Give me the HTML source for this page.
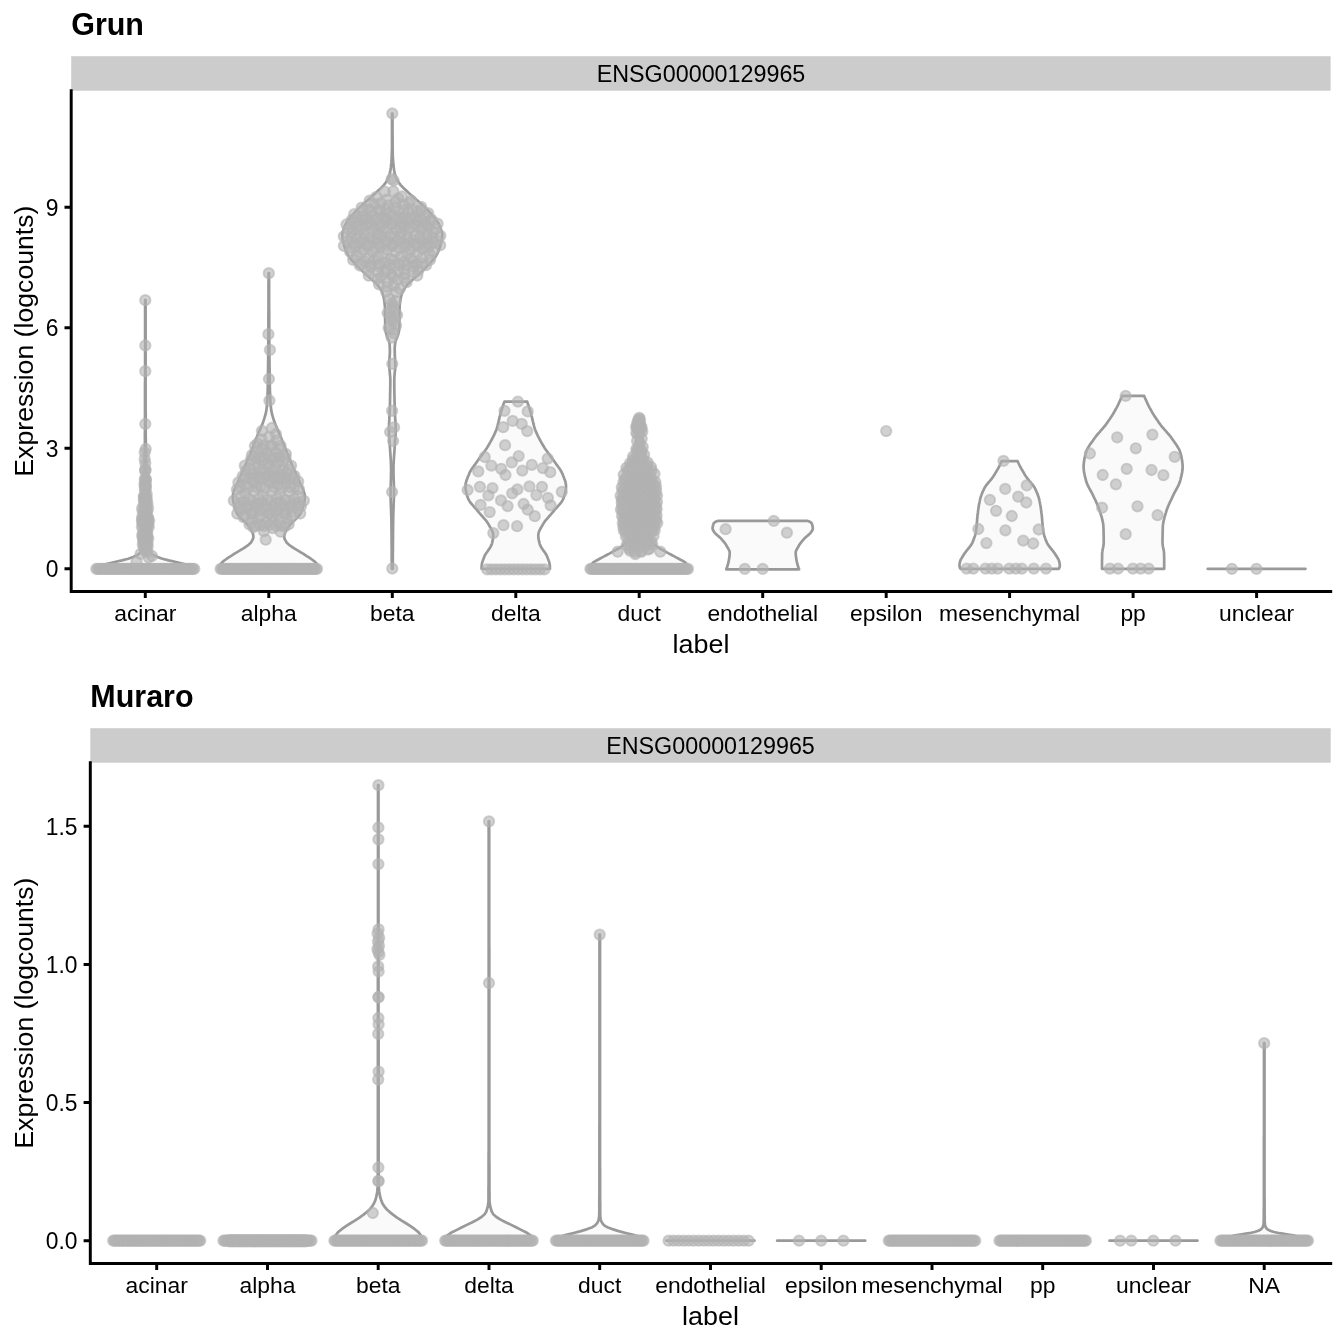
<!DOCTYPE html>
<html><head><meta charset="utf-8"><title>plot</title>
<style>html,body{margin:0;padding:0;background:#fff}svg{display:block;filter:grayscale(1)}text{font-family:"Liberation Sans",sans-serif;fill:#000}</style></head><body>
<svg width="1344" height="1344" viewBox="0 0 1344 1344">
<rect width="1344" height="1344" fill="#fff"/>
<rect x="71.2" y="56.2" width="1259.4" height="34.5" fill="#cccccc"/>
<text transform="translate(71.2,35.4) scale(1.0,1.0)" font-size="30.48" font-weight="bold">Grun</text>
<text transform="translate(701,81.7) scale(1.02,1.025)" font-size="22.86" text-anchor="middle">ENSG00000129965</text>
<g stroke="#000" stroke-width="2.95" stroke-linecap="square" fill="none">
<path d="M71.2,90.7 V591.4 H1330.7"/>
</g>
<g stroke="#000" stroke-width="2.95" stroke-linecap="butt" fill="none">
<path d="M71.2,568.8 h-6.7M71.2,448.3 h-6.7M71.2,327.7 h-6.7M71.2,207.2 h-6.7M145.3,591.4 v6.7M268.8,591.4 v6.7M392.3,591.4 v6.7M515.8,591.4 v6.7M639.2,591.4 v6.7M762.7,591.4 v6.7M886.2,591.4 v6.7M1009.6,591.4 v6.7M1133.1,591.4 v6.7M1256.6,591.4 v6.7"/>
</g>
<text transform="translate(58.5,577.1) scale(1.0,1.05)" font-size="22.86" text-anchor="end">0</text>
<text transform="translate(58.5,456.6) scale(1.0,1.05)" font-size="22.86" text-anchor="end">3</text>
<text transform="translate(58.5,336) scale(1.0,1.05)" font-size="22.86" text-anchor="end">6</text>
<text transform="translate(58.5,215.5) scale(1.0,1.05)" font-size="22.86" text-anchor="end">9</text>
<text transform="translate(145.3,620.8) scale(1.0,1.0)" font-size="22.86" text-anchor="middle">acinar</text>
<text transform="translate(268.8,620.8) scale(1.0,1.0)" font-size="22.86" text-anchor="middle">alpha</text>
<text transform="translate(392.3,620.8) scale(1.0,1.0)" font-size="22.86" text-anchor="middle">beta</text>
<text transform="translate(515.8,620.8) scale(1.0,1.0)" font-size="22.86" text-anchor="middle">delta</text>
<text transform="translate(639.2,620.8) scale(1.0,1.0)" font-size="22.86" text-anchor="middle">duct</text>
<text transform="translate(762.7,620.8) scale(1.0,1.0)" font-size="22.86" text-anchor="middle">endothelial</text>
<text transform="translate(886.2,620.8) scale(1.0,1.0)" font-size="22.86" text-anchor="middle">epsilon</text>
<text transform="translate(1009.6,620.8) scale(1.0,1.0)" font-size="22.86" text-anchor="middle">mesenchymal</text>
<text transform="translate(1133.1,620.8) scale(1.0,1.0)" font-size="22.86" text-anchor="middle">pp</text>
<text transform="translate(1256.6,620.8) scale(1.0,1.0)" font-size="22.86" text-anchor="middle">unclear</text>
<text transform="translate(701,652.8) scale(1.01,1.0)" font-size="26.67" text-anchor="middle">label</text>
<text transform="translate(32.5,341.1) rotate(-90) scale(1.0,1.0)" font-size="26.67" text-anchor="middle">Expression (logcounts)</text>
<g fill="#e5e5e5" fill-opacity="0.2" stroke="#999999" stroke-width="2.7" stroke-linejoin="round">
<path d="M145.1,300.2 145.1,301.9 145.1,303.6 145.1,305.3 145.1,307 145.1,308.6 145.1,310.3 145.1,312 145.1,313.7 145.1,315.4 145.1,317.1 145.1,318.8 145.1,320.5 145.1,322.2 145.1,323.9 145.1,325.5 145.1,327.2 145.1,328.9 145.1,330.6 145.1,332.3 145.1,334 145.1,335.7 145.1,337.4 145.1,339.1 145.1,340.7 145.1,342.4 145.1,344.1 145.1,345.8 145.1,347.5 145.1,349.2 145.1,350.9 145.1,352.6 145.1,354.3 145.1,355.9 145.1,357.6 145.1,359.3 145.1,361 145.1,362.7 145.1,364.4 145.1,366.1 145.1,367.8 145.1,369.5 145.1,371.2 145.1,372.8 145.1,374.5 145.1,376.2 145.1,377.9 145.1,379.6 145.1,381.3 145,383 145,384.7 145,386.4 145,388 145,389.7 145,391.4 145,393.1 145,394.8 145,396.5 145,398.2 145,399.9 145,401.6 145,403.2 145,404.9 145,406.6 145,408.3 145,410 145,411.7 145,413.4 145,415.1 145,416.8 145,418.5 145,420.1 145,421.8 145,423.5 145,425.2 145,426.9 145,428.6 145,430.3 144.9,432 144.9,433.7 144.9,435.3 144.9,437 144.9,438.7 144.9,440.4 144.9,442.1 144.9,443.8 144.9,445.5 144.9,447.2 144.8,448.9 144.8,450.5 144.8,452.2 144.8,453.9 144.7,455.6 144.7,457.3 144.6,459 144.5,460.7 144.4,462.4 144.4,464.1 144.3,465.8 144.2,467.4 144.2,469.1 144.1,470.8 144,472.5 144,474.2 143.9,475.9 143.8,477.6 143.8,479.3 143.7,481 143.6,482.6 143.6,484.3 143.5,486 143.4,487.7 143.4,489.4 143.3,491.1 143.3,492.8 143.2,494.5 143.2,496.2 143.2,497.8 143.1,499.5 143.1,501.2 143.1,502.9 143.1,504.6 143.1,506.3 143.1,508 143.1,509.7 143,511.4 143,513.1 143,514.7 143,516.4 143,518.1 143,519.8 143,521.5 143,523.2 143,524.9 143,526.6 142.9,528.3 142.9,529.9 142.9,531.6 142.9,533.3 142.9,535 142.9,536.7 142.9,538.4 142.8,540.1 142.8,541.8 142.8,543.5 142.8,545.1 142.7,546.8 142.3,548.5 141.7,550.2 140.8,551.9 139.2,553.6 136.9,555.3 133.2,557 128.3,558.7 121.9,560.4 114.7,562 107.5,563.7 101.8,565.4 98.1,567.1 95.9,568.8 194.7,568.8 192.5,567.1 188.9,565.4 183.2,563.7 176,562 168.7,560.4 162.4,558.7 157.5,557 153.8,555.3 151.5,553.6 149.9,551.9 149,550.2 148.4,548.5 148,546.8 147.9,545.1 147.9,543.5 147.8,541.8 147.8,540.1 147.8,538.4 147.8,536.7 147.8,535 147.8,533.3 147.7,531.6 147.7,529.9 147.7,528.3 147.7,526.6 147.7,524.9 147.7,523.2 147.7,521.5 147.7,519.8 147.7,518.1 147.6,516.4 147.6,514.7 147.6,513.1 147.6,511.4 147.6,509.7 147.6,508 147.6,506.3 147.6,504.6 147.6,502.9 147.5,501.2 147.5,499.5 147.5,497.8 147.5,496.2 147.4,494.5 147.4,492.8 147.3,491.1 147.3,489.4 147.2,487.7 147.2,486 147.1,484.3 147,482.6 147,481 146.9,479.3 146.8,477.6 146.8,475.9 146.7,474.2 146.6,472.5 146.6,470.8 146.5,469.1 146.4,467.4 146.4,465.8 146.3,464.1 146.2,462.4 146.1,460.7 146.1,459 146,457.3 146,455.6 145.9,453.9 145.9,452.2 145.8,450.5 145.8,448.9 145.8,447.2 145.8,445.5 145.8,443.8 145.8,442.1 145.8,440.4 145.8,438.7 145.7,437 145.7,435.3 145.7,433.7 145.7,432 145.7,430.3 145.7,428.6 145.7,426.9 145.7,425.2 145.7,423.5 145.7,421.8 145.7,420.1 145.7,418.5 145.7,416.8 145.7,415.1 145.7,413.4 145.7,411.7 145.6,410 145.6,408.3 145.6,406.6 145.6,404.9 145.6,403.2 145.6,401.6 145.6,399.9 145.6,398.2 145.6,396.5 145.6,394.8 145.6,393.1 145.6,391.4 145.6,389.7 145.6,388 145.6,386.4 145.6,384.7 145.6,383 145.6,381.3 145.6,379.6 145.6,377.9 145.6,376.2 145.6,374.5 145.6,372.8 145.6,371.2 145.6,369.5 145.6,367.8 145.6,366.1 145.6,364.4 145.6,362.7 145.6,361 145.6,359.3 145.6,357.6 145.6,355.9 145.6,354.3 145.6,352.6 145.6,350.9 145.6,349.2 145.6,347.5 145.6,345.8 145.6,344.1 145.6,342.4 145.6,340.7 145.6,339.1 145.6,337.4 145.6,335.7 145.6,334 145.6,332.3 145.6,330.6 145.6,328.9 145.6,327.2 145.6,325.5 145.6,323.9 145.6,322.2 145.6,320.5 145.6,318.8 145.6,317.1 145.6,315.4 145.6,313.7 145.6,312 145.6,310.3 145.6,308.6 145.6,307 145.6,305.3 145.6,303.6 145.6,301.9 145.6,300.2Z"/>
<path d="M268.6,273.2 268.6,275.1 268.6,276.9 268.6,278.8 268.6,280.6 268.5,282.5 268.5,284.4 268.5,286.2 268.5,288.1 268.5,289.9 268.5,291.8 268.5,293.7 268.5,295.5 268.5,297.4 268.5,299.2 268.5,301.1 268.5,302.9 268.5,304.8 268.5,306.7 268.5,308.5 268.5,310.4 268.5,312.2 268.4,314.1 268.4,316 268.4,317.8 268.4,319.7 268.4,321.5 268.4,323.4 268.4,325.3 268.4,327.1 268.4,329 268.4,330.8 268.3,332.7 268.3,334.6 268.3,336.4 268.3,338.3 268.3,340.1 268.3,342 268.3,343.8 268.3,345.7 268.3,347.6 268.2,349.4 268.2,351.3 268.2,353.1 268.2,355 268.2,356.9 268.2,358.7 268.2,360.6 268.1,362.4 268.1,364.3 268.1,366.2 268.1,368 268,369.9 268,371.7 268,373.6 268,375.5 267.9,377.3 267.9,379.2 267.9,381 267.9,382.9 267.8,384.7 267.8,386.6 267.7,388.5 267.7,390.3 267.6,392.2 267.6,394 267.5,395.9 267.4,397.8 267.3,399.6 267.2,401.5 267.1,403.3 266.9,405.2 266.8,407.1 266.5,408.9 266.3,410.8 265.9,412.6 265.5,414.5 264.9,416.4 264.4,418.2 263.8,420.1 263.2,421.9 262.5,423.8 261.7,425.6 260.9,427.5 260.1,429.4 259.3,431.2 258.5,433.1 257.7,434.9 256.9,436.8 256.1,438.7 255.4,440.5 254.7,442.4 253.9,444.2 253.2,446.1 252.5,448 251.7,449.8 251,451.7 250.3,453.5 249.5,455.4 248.8,457.3 248,459.1 247.2,461 246.5,462.8 245.6,464.7 244.8,466.5 243.9,468.4 243.1,470.3 242.2,472.1 241.4,474 240.5,475.8 239.7,477.7 239,479.6 238.2,481.4 237.4,483.3 236.5,485.1 235.6,487 234.8,488.9 234.1,490.7 233.5,492.6 233,494.4 232.8,496.3 232.8,498.2 233,500 233.3,501.9 233.7,503.7 234.2,505.6 234.7,507.4 235.4,509.3 236.1,511.2 236.8,513 237.9,514.9 239.5,516.7 241.3,518.6 243.3,520.5 245.3,522.3 247,524.2 248.6,526 250.1,527.9 251.1,529.8 252,531.6 252.8,533.5 253.3,535.3 253.4,537.2 252.9,539.1 251.9,540.9 250.8,542.8 248.8,544.6 246.2,546.5 243.4,548.3 240.4,550.2 237.2,552.1 234.1,553.9 231.2,555.8 228.3,557.6 225.7,559.5 223.1,561.4 221.2,563.2 220.1,565.1 219.6,566.9 219.4,568.8 318.2,568.8 318,566.9 317.5,565.1 316.4,563.2 314.5,561.4 311.9,559.5 309.3,557.6 306.4,555.8 303.5,553.9 300.4,552.1 297.2,550.2 294.2,548.3 291.4,546.5 288.8,544.6 286.8,542.8 285.7,540.9 284.7,539.1 284.2,537.2 284.3,535.3 284.8,533.5 285.6,531.6 286.5,529.8 287.6,527.9 289,526 290.7,524.2 292.3,522.3 294.3,520.5 296.3,518.6 298.2,516.7 299.7,514.9 300.8,513 301.5,511.2 302.2,509.3 302.9,507.4 303.5,505.6 303.9,503.7 304.3,501.9 304.6,500 304.8,498.2 304.8,496.3 304.6,494.4 304.1,492.6 303.5,490.7 302.8,488.9 302,487 301.1,485.1 300.2,483.3 299.4,481.4 298.6,479.6 297.9,477.7 297.1,475.8 296.2,474 295.4,472.1 294.5,470.3 293.7,468.4 292.8,466.5 292,464.7 291.2,462.8 290.4,461 289.6,459.1 288.8,457.3 288.1,455.4 287.3,453.5 286.6,451.7 285.9,449.8 285.2,448 284.4,446.1 283.7,444.2 283,442.4 282.2,440.5 281.5,438.7 280.7,436.8 279.9,434.9 279.1,433.1 278.3,431.2 277.5,429.4 276.7,427.5 275.9,425.6 275.1,423.8 274.5,421.9 273.8,420.1 273.2,418.2 272.7,416.4 272.1,414.5 271.7,412.6 271.3,410.8 271.1,408.9 270.9,407.1 270.7,405.2 270.5,403.3 270.4,401.5 270.3,399.6 270.2,397.8 270.1,395.9 270.1,394 270,392.2 269.9,390.3 269.9,388.5 269.8,386.6 269.8,384.7 269.8,382.9 269.7,381 269.7,379.2 269.7,377.3 269.6,375.5 269.6,373.6 269.6,371.7 269.6,369.9 269.5,368 269.5,366.2 269.5,364.3 269.5,362.4 269.5,360.6 269.4,358.7 269.4,356.9 269.4,355 269.4,353.1 269.4,351.3 269.4,349.4 269.4,347.6 269.3,345.7 269.3,343.8 269.3,342 269.3,340.1 269.3,338.3 269.3,336.4 269.3,334.6 269.3,332.7 269.3,330.8 269.2,329 269.2,327.1 269.2,325.3 269.2,323.4 269.2,321.5 269.2,319.7 269.2,317.8 269.2,316 269.2,314.1 269.2,312.2 269.2,310.4 269.1,308.5 269.1,306.7 269.1,304.8 269.1,302.9 269.1,301.1 269.1,299.2 269.1,297.4 269.1,295.5 269.1,293.7 269.1,291.8 269.1,289.9 269.1,288.1 269.1,286.2 269.1,284.4 269.1,282.5 269.1,280.6 269.1,278.8 269.1,276.9 269.1,275.1 269.1,273.2Z"/>
<path d="M392,113.5 392,116.4 392,119.2 392,122.1 392,125 392,127.8 392,130.7 392,133.5 392,136.4 392,139.3 392,142.1 392,145 392,147.9 391.9,150.7 391.8,153.6 391.7,156.5 391.6,159.3 391.4,162.2 391.1,165 390.8,167.9 390.3,170.8 389.7,173.6 388.9,176.5 387.7,179.4 386,182.2 383.8,185.1 381.1,188 378,190.8 374.9,193.7 371.8,196.5 368.5,199.4 365.2,202.3 362.1,205.1 359.1,208 356.2,210.9 353.5,213.7 351.1,216.6 348.8,219.5 346.7,222.3 345.2,225.2 344,228 343,230.9 342.4,233.8 342.3,236.6 342.7,239.5 343.3,242.4 344.1,245.2 344.9,248.1 346,250.9 347.4,253.8 349,256.7 351.1,259.5 353.8,262.4 356.6,265.3 359.4,268.1 362.4,271 365.5,273.9 368.6,276.7 371.8,279.6 375,282.4 377.7,285.3 379.9,288.2 381.7,291 382.9,293.9 383.5,296.8 384.1,299.6 384.5,302.5 384.8,305.4 385,308.2 385,311.1 385.1,313.9 385.1,316.8 385.1,319.7 385.2,322.5 385.2,325.4 385.3,328.3 385.5,331.1 386.3,334 387.2,336.9 388.5,339.7 389.4,342.6 389.7,345.4 389.8,348.3 389.9,351.2 389.8,354 389.6,356.9 389.4,359.8 389.3,362.6 389.3,365.5 389.4,368.4 389.7,371.2 389.9,374.1 390.2,376.9 390.3,379.8 390.3,382.7 390.3,385.5 390.2,388.4 390.2,391.3 390.1,394.1 390.1,397 390,399.9 390,402.7 389.9,405.6 389.8,408.4 389.7,411.3 389.6,414.2 389.4,417 389.3,419.9 389.1,422.8 389,425.6 388.9,428.5 388.9,431.4 389,434.2 389.2,437.1 389.4,439.9 389.6,442.8 389.8,445.7 390,448.5 390.2,451.4 390.4,454.3 390.6,457.1 390.8,460 390.9,462.8 391,465.7 391.1,468.6 391.1,471.4 391,474.3 391,477.2 390.9,480 390.8,482.9 390.7,485.8 390.6,488.6 390.6,491.5 390.6,494.3 390.6,497.2 390.7,500.1 390.8,502.9 390.9,505.8 391,508.7 391.1,511.5 391.2,514.4 391.3,517.3 391.4,520.1 391.4,523 391.5,525.8 391.5,528.7 391.5,531.6 391.6,534.4 391.6,537.3 391.6,540.2 391.6,543 391.6,545.9 391.7,548.8 391.7,551.6 391.7,554.5 391.7,557.3 391.7,560.2 391.8,563.1 391.8,565.9 391.8,568.8 392.8,568.8 392.8,565.9 392.8,563.1 392.8,560.2 392.8,557.3 392.8,554.5 392.9,551.6 392.9,548.8 392.9,545.9 392.9,543 393,540.2 393,537.3 393,534.4 393,531.6 393.1,528.7 393.1,525.8 393.1,523 393.2,520.1 393.2,517.3 393.3,514.4 393.4,511.5 393.5,508.7 393.6,505.8 393.7,502.9 393.8,500.1 393.9,497.2 394,494.3 394,491.5 393.9,488.6 393.9,485.8 393.8,482.9 393.7,480 393.6,477.2 393.5,474.3 393.5,471.4 393.5,468.6 393.5,465.7 393.7,462.8 393.8,460 394,457.1 394.2,454.3 394.4,451.4 394.6,448.5 394.7,445.7 394.9,442.8 395.1,439.9 395.4,437.1 395.6,434.2 395.7,431.4 395.7,428.5 395.6,425.6 395.5,422.8 395.3,419.9 395.1,417 394.9,414.2 394.8,411.3 394.7,408.4 394.7,405.6 394.6,402.7 394.5,399.9 394.5,397 394.4,394.1 394.4,391.3 394.3,388.4 394.3,385.5 394.3,382.7 394.3,379.8 394.4,376.9 394.6,374.1 394.9,371.2 395.2,368.4 395.3,365.5 395.2,362.6 395.1,359.8 394.9,356.9 394.8,354 394.7,351.2 394.7,348.3 394.9,345.4 395.2,342.6 396.1,339.7 397.3,336.9 398.3,334 399,331.1 399.3,328.3 399.4,325.4 399.4,322.5 399.4,319.7 399.4,316.8 399.5,313.9 399.5,311.1 399.6,308.2 399.7,305.4 400,302.5 400.5,299.6 401,296.8 401.7,293.9 402.9,291 404.7,288.2 406.8,285.3 409.6,282.4 412.8,279.6 416,276.7 419.1,273.9 422.2,271 425.2,268.1 428,265.3 430.8,262.4 433.4,259.5 435.6,256.7 437.2,253.8 438.5,250.9 439.6,248.1 440.5,245.2 441.2,242.4 441.9,239.5 442.2,236.6 442.2,233.8 441.5,230.9 440.5,228 439.4,225.2 437.9,222.3 435.8,219.5 433.5,216.6 431,213.7 428.4,210.9 425.5,208 422.5,205.1 419.4,202.3 416.1,199.4 412.8,196.5 409.6,193.7 406.5,190.8 403.5,188 400.7,185.1 398.6,182.2 396.9,179.4 395.7,176.5 394.8,173.6 394.2,170.8 393.8,167.9 393.4,165 393.2,162.2 393,159.3 392.8,156.5 392.7,153.6 392.7,150.7 392.6,147.9 392.6,145 392.6,142.1 392.6,139.3 392.6,136.4 392.5,133.5 392.5,130.7 392.5,127.8 392.5,125 392.5,122.1 392.5,119.2 392.5,116.4 392.5,113.5Z"/>
<path d="M504.4,401.6 504,402.7 503.6,403.7 503.3,404.8 502.9,405.8 502.6,406.9 502.2,407.9 501.9,409 501.6,410 501.2,411.1 500.9,412.1 500.6,413.2 500.3,414.2 500.1,415.3 499.8,416.3 499.5,417.4 499.3,418.4 499.1,419.5 498.8,420.5 498.6,421.6 498.3,422.6 498.1,423.7 497.8,424.7 497.5,425.8 497.2,426.8 496.9,427.9 496.6,428.9 496.2,430 495.8,431 495.4,432.1 494.9,433.1 494.4,434.2 494,435.3 493.4,436.3 492.9,437.4 492.3,438.4 491.8,439.5 491.2,440.5 490.6,441.6 490,442.6 489.4,443.7 488.8,444.7 488.2,445.8 487.6,446.8 486.9,447.9 486.2,448.9 485.5,450 484.7,451 484,452.1 483.2,453.1 482.4,454.2 481.7,455.2 480.9,456.3 480.1,457.3 479.3,458.4 478.6,459.4 477.8,460.5 477.1,461.5 476.4,462.6 475.6,463.6 474.9,464.7 474.1,465.7 473.3,466.8 472.5,467.8 471.8,468.9 471.1,470 470.5,471 469.9,472.1 469.4,473.1 469,474.2 468.6,475.2 468.1,476.3 467.7,477.3 467.3,478.4 466.9,479.4 466.5,480.5 466.2,481.5 465.9,482.6 465.7,483.6 465.6,484.7 465.5,485.7 465.5,486.8 465.5,487.8 465.6,488.9 465.7,489.9 465.9,491 466.2,492 466.4,493.1 466.7,494.1 467,495.2 467.3,496.2 467.7,497.3 468,498.3 468.5,499.4 469,500.4 469.7,501.5 470.5,502.6 471.3,503.6 472.2,504.7 473.1,505.7 474.1,506.8 475,507.8 476,508.9 476.9,509.9 477.7,511 478.6,512 479.5,513.1 480.4,514.1 481.3,515.2 482.3,516.2 483.2,517.3 484.1,518.3 485,519.4 485.9,520.4 486.7,521.5 487.4,522.5 488.1,523.6 488.7,524.6 489.3,525.7 489.9,526.7 490.5,527.8 491.1,528.8 491.7,529.9 492.2,530.9 492.6,532 492.9,533 493.1,534.1 493.2,535.1 493.2,536.2 493.2,537.3 493,538.3 492.9,539.4 492.6,540.4 492.4,541.5 492.2,542.5 491.9,543.6 491.6,544.6 491.1,545.7 490.6,546.7 490,547.8 489.3,548.8 488.5,549.9 487.8,550.9 487.1,552 486.3,553 485.7,554.1 485,555.1 484.5,556.2 484.1,557.2 483.7,558.3 483.3,559.3 482.9,560.4 482.5,561.4 482.2,562.5 482,563.5 481.8,564.6 481.7,565.6 481.6,566.7 481.6,567.7 481.6,568.8 550,568.8 549.9,567.7 549.9,566.7 549.8,565.6 549.7,564.6 549.5,563.5 549.3,562.5 549,561.4 548.6,560.4 548.2,559.3 547.8,558.3 547.4,557.2 547,556.2 546.5,555.1 545.8,554.1 545.2,553 544.5,552 543.7,550.9 543,549.9 542.2,548.8 541.5,547.8 540.9,546.7 540.4,545.7 539.9,544.6 539.6,543.6 539.4,542.5 539.1,541.5 538.9,540.4 538.6,539.4 538.5,538.3 538.3,537.3 538.3,536.2 538.3,535.1 538.4,534.1 538.6,533 538.9,532 539.3,530.9 539.8,529.9 540.4,528.8 541,527.8 541.6,526.7 542.2,525.7 542.8,524.6 543.4,523.6 544.1,522.5 544.8,521.5 545.6,520.4 546.5,519.4 547.4,518.3 548.3,517.3 549.2,516.2 550.2,515.2 551.1,514.1 552,513.1 552.9,512 553.8,511 554.6,509.9 555.5,508.9 556.5,507.8 557.4,506.8 558.4,505.7 559.3,504.7 560.2,503.6 561,502.6 561.8,501.5 562.5,500.4 563,499.4 563.5,498.3 563.8,497.3 564.2,496.2 564.5,495.2 564.8,494.1 565.1,493.1 565.3,492 565.6,491 565.8,489.9 565.9,488.9 566,487.8 566,486.8 566,485.7 565.9,484.7 565.8,483.6 565.6,482.6 565.3,481.5 565,480.5 564.6,479.4 564.2,478.4 563.8,477.3 563.4,476.3 563,475.2 562.5,474.2 562.1,473.1 561.6,472.1 561,471 560.4,470 559.7,468.9 559,467.8 558.2,466.8 557.4,465.7 556.6,464.7 555.9,463.6 555.1,462.6 554.4,461.5 553.7,460.5 552.9,459.4 552.2,458.4 551.4,457.3 550.6,456.3 549.8,455.2 549.1,454.2 548.3,453.1 547.5,452.1 546.8,451 546,450 545.3,448.9 544.6,447.9 543.9,446.8 543.3,445.8 542.7,444.7 542.1,443.7 541.5,442.6 540.9,441.6 540.3,440.5 539.7,439.5 539.2,438.4 538.6,437.4 538.1,436.3 537.6,435.3 537.1,434.2 536.6,433.1 536.1,432.1 535.7,431 535.3,430 534.9,428.9 534.6,427.9 534.3,426.8 534,425.8 533.7,424.7 533.4,423.7 533.2,422.6 532.9,421.6 532.7,420.5 532.4,419.5 532.2,418.4 532,417.4 531.7,416.3 531.4,415.3 531.2,414.2 530.9,413.2 530.6,412.1 530.3,411.1 529.9,410 529.6,409 529.3,407.9 528.9,406.9 528.6,405.8 528.2,404.8 527.9,403.7 527.5,402.7 527.2,401.6Z"/>
<path d="M638.4,417.5 638.3,418.5 638.3,419.4 638.2,420.4 638.1,421.3 638,422.3 637.9,423.2 637.8,424.2 637.7,425.1 637.6,426.1 637.5,427 637.4,428 637.3,428.9 637.2,429.9 637.1,430.8 637,431.8 636.9,432.7 636.8,433.7 636.8,434.6 636.7,435.6 636.6,436.5 636.5,437.5 636.4,438.4 636.3,439.4 636.2,440.3 636.1,441.3 636,442.2 635.9,443.2 635.8,444.1 635.6,445.1 635.5,446 635.4,447 635.3,448 635.2,448.9 635,449.9 634.9,450.8 634.8,451.8 634.6,452.7 634.5,453.7 634.3,454.6 634.1,455.6 633.9,456.5 633.7,457.5 633.5,458.4 633.2,459.4 632.9,460.3 632.6,461.3 632.3,462.2 632,463.2 631.6,464.1 631.3,465.1 631,466 630.6,467 630.3,467.9 630,468.9 629.7,469.8 629.4,470.8 629.1,471.7 628.8,472.7 628.5,473.6 628.3,474.6 628.1,475.5 627.9,476.5 627.7,477.4 627.5,478.4 627.2,479.4 627,480.3 626.8,481.3 626.6,482.2 626.4,483.2 626.2,484.1 626,485.1 625.8,486 625.6,487 625.4,487.9 625.2,488.9 625.1,489.8 624.9,490.8 624.8,491.7 624.6,492.7 624.5,493.6 624.4,494.6 624.4,495.5 624.3,496.5 624.3,497.4 624.2,498.4 624.2,499.3 624.2,500.3 624.3,501.2 624.3,502.2 624.3,503.1 624.4,504.1 624.4,505 624.5,506 624.6,506.9 624.6,507.9 624.7,508.9 624.8,509.8 624.9,510.8 625,511.7 625.1,512.7 625.2,513.6 625.2,514.6 625.3,515.5 625.4,516.5 625.5,517.4 625.6,518.4 625.7,519.3 625.8,520.3 625.9,521.2 626,522.2 626.1,523.1 626.2,524.1 626.2,525 626.3,526 626.4,526.9 626.5,527.9 626.5,528.8 626.6,529.8 626.7,530.7 626.8,531.7 626.9,532.6 626.9,533.6 627,534.5 627.1,535.5 627.1,536.4 627.2,537.4 627.2,538.3 627.2,539.3 627.2,540.3 626.9,541.2 626.3,542.2 625.5,543.1 624.4,544.1 623.4,545 622.3,546 621.1,546.9 619.6,547.9 618,548.8 616.3,549.8 614.5,550.7 612.8,551.7 611.1,552.6 609.4,553.6 607.6,554.5 605.8,555.5 604.1,556.4 602.3,557.4 600.6,558.3 598.8,559.3 597,560.2 595.2,561.2 593.7,562.1 592.6,563.1 591.9,564 591.2,565 590.7,565.9 590.4,566.9 590,567.8 589.8,568.8 688.6,568.8 688.4,567.8 688.1,566.9 687.7,565.9 687.2,565 686.6,564 685.8,563.1 684.7,562.1 683.2,561.2 681.5,560.2 679.6,559.3 677.8,558.3 676.1,557.4 674.4,556.4 672.6,555.5 670.8,554.5 669.1,553.6 667.3,552.6 665.6,551.7 663.9,550.7 662.1,549.8 660.4,548.8 658.8,547.9 657.4,546.9 656.2,546 655.1,545 654,544.1 653,543.1 652.1,542.2 651.5,541.2 651.2,540.3 651.2,539.3 651.2,538.3 651.3,537.4 651.3,536.4 651.4,535.5 651.4,534.5 651.5,533.6 651.6,532.6 651.7,531.7 651.7,530.7 651.8,529.8 651.9,528.8 652,527.9 652.1,526.9 652.2,526 652.2,525 652.3,524.1 652.4,523.1 652.4,522.2 652.5,521.2 652.6,520.3 652.7,519.3 652.8,518.4 652.9,517.4 653,516.5 653.1,515.5 653.2,514.6 653.3,513.6 653.4,512.7 653.5,511.7 653.6,510.8 653.7,509.8 653.7,508.9 653.8,507.9 653.9,506.9 654,506 654,505 654.1,504.1 654.1,503.1 654.2,502.2 654.2,501.2 654.2,500.3 654.2,499.3 654.2,498.4 654.2,497.4 654.2,496.5 654.1,495.5 654,494.6 653.9,493.6 653.8,492.7 653.7,491.7 653.5,490.8 653.4,489.8 653.2,488.9 653,487.9 652.9,487 652.7,486 652.5,485.1 652.3,484.1 652.1,483.2 651.9,482.2 651.6,481.3 651.4,480.3 651.2,479.4 651,478.4 650.8,477.4 650.6,476.5 650.3,475.5 650.1,474.6 649.9,473.6 649.7,472.7 649.4,471.7 649.1,470.8 648.8,469.8 648.5,468.9 648.1,467.9 647.8,467 647.5,466 647.1,465.1 646.8,464.1 646.5,463.2 646.2,462.2 645.8,461.3 645.5,460.3 645.3,459.4 645,458.4 644.7,457.5 644.5,456.5 644.3,455.6 644.2,454.6 644,453.7 643.8,452.7 643.7,451.8 643.6,450.8 643.4,449.9 643.3,448.9 643.2,448 643,447 642.9,446 642.8,445.1 642.7,444.1 642.6,443.2 642.5,442.2 642.4,441.3 642.3,440.3 642.2,439.4 642.1,438.4 642,437.5 641.9,436.5 641.8,435.6 641.7,434.6 641.6,433.7 641.5,432.7 641.4,431.8 641.3,430.8 641.2,429.9 641.1,428.9 641,428 640.9,427 640.8,426.1 640.7,425.1 640.6,424.2 640.5,423.2 640.5,422.3 640.4,421.3 640.3,420.4 640.2,419.4 640.1,418.5 640,417.5Z"/>
<path d="M717.7,520.9 716.9,521.2 716.2,521.5 715.5,521.8 715,522.1 714.6,522.4 714.3,522.7 714.1,523 713.8,523.3 713.6,523.6 713.5,523.9 713.3,524.2 713.2,524.6 713.1,524.9 713.1,525.2 713,525.5 712.9,525.8 712.9,526.1 712.8,526.4 712.8,526.7 712.7,527 712.7,527.3 712.6,527.6 712.6,527.9 712.6,528.2 712.6,528.5 712.6,528.8 712.7,529.1 712.7,529.4 712.9,529.7 713,530 713.2,530.3 713.3,530.6 713.5,530.9 713.7,531.2 713.9,531.6 714.1,531.9 714.3,532.2 714.5,532.5 714.7,532.8 715,533.1 715.3,533.4 715.6,533.7 715.9,534 716.2,534.3 716.5,534.6 716.9,534.9 717.2,535.2 717.6,535.5 717.9,535.8 718.3,536.1 718.6,536.4 719,536.7 719.3,537 719.7,537.3 720,537.6 720.4,537.9 720.7,538.3 721,538.6 721.3,538.9 721.6,539.2 721.8,539.5 722.1,539.8 722.4,540.1 722.6,540.4 722.9,540.7 723.1,541 723.4,541.3 723.6,541.6 723.9,541.9 724.1,542.2 724.3,542.5 724.6,542.8 724.8,543.1 725,543.4 725.3,543.7 725.5,544 725.7,544.3 725.9,544.6 726.1,544.9 726.3,545.3 726.4,545.6 726.6,545.9 726.8,546.2 727,546.5 727.1,546.8 727.3,547.1 727.5,547.4 727.7,547.7 727.9,548 728.1,548.3 728.2,548.6 728.4,548.9 728.6,549.2 728.7,549.5 728.9,549.8 729,550.1 729.2,550.4 729.3,550.7 729.4,551 729.5,551.3 729.6,551.6 729.6,551.9 729.7,552.3 729.7,552.6 729.7,552.9 729.7,553.2 729.7,553.5 729.7,553.8 729.7,554.1 729.6,554.4 729.6,554.7 729.6,555 729.6,555.3 729.5,555.6 729.5,555.9 729.5,556.2 729.4,556.5 729.4,556.8 729.3,557.1 729.3,557.4 729.3,557.7 729.2,558 729.2,558.3 729.1,558.6 729.1,559 729,559.3 729,559.6 728.9,559.9 728.9,560.2 728.8,560.5 728.8,560.8 728.7,561.1 728.6,561.4 728.6,561.7 728.5,562 728.5,562.3 728.4,562.6 728.3,562.9 728.2,563.2 728.2,563.5 728.1,563.8 728,564.1 727.9,564.4 727.8,564.7 727.7,565 727.6,565.3 727.6,565.6 727.5,566 727.4,566.3 727.3,566.6 727.2,566.9 727.1,567.2 727,567.5 726.8,567.8 726.7,568.1 726.6,568.4 726.5,568.7 726.4,569 726.3,569.3 799.1,569.3 799,569 798.9,568.7 798.8,568.4 798.7,568.1 798.5,567.8 798.4,567.5 798.3,567.2 798.2,566.9 798.1,566.6 798,566.3 797.9,566 797.8,565.6 797.7,565.3 797.7,565 797.6,564.7 797.5,564.4 797.4,564.1 797.3,563.8 797.2,563.5 797.2,563.2 797.1,562.9 797,562.6 796.9,562.3 796.9,562 796.8,561.7 796.7,561.4 796.7,561.1 796.6,560.8 796.6,560.5 796.5,560.2 796.5,559.9 796.4,559.6 796.4,559.3 796.3,559 796.3,558.6 796.2,558.3 796.2,558 796.1,557.7 796.1,557.4 796.1,557.1 796,556.8 796,556.5 795.9,556.2 795.9,555.9 795.9,555.6 795.8,555.3 795.8,555 795.8,554.7 795.8,554.4 795.7,554.1 795.7,553.8 795.7,553.5 795.7,553.2 795.7,552.9 795.7,552.6 795.7,552.3 795.8,551.9 795.8,551.6 795.9,551.3 796,551 796.1,550.7 796.2,550.4 796.4,550.1 796.5,549.8 796.7,549.5 796.8,549.2 797,548.9 797.2,548.6 797.3,548.3 797.5,548 797.7,547.7 797.9,547.4 798.1,547.1 798.3,546.8 798.4,546.5 798.6,546.2 798.8,545.9 798.9,545.6 799.1,545.3 799.3,544.9 799.5,544.6 799.7,544.3 799.9,544 800.1,543.7 800.4,543.4 800.6,543.1 800.8,542.8 801,542.5 801.3,542.2 801.5,541.9 801.8,541.6 802,541.3 802.3,541 802.5,540.7 802.8,540.4 803,540.1 803.3,539.8 803.6,539.5 803.8,539.2 804.1,538.9 804.4,538.6 804.7,538.3 805,537.9 805.4,537.6 805.7,537.3 806,537 806.4,536.7 806.8,536.4 807.1,536.1 807.5,535.8 807.8,535.5 808.2,535.2 808.5,534.9 808.9,534.6 809.2,534.3 809.5,534 809.8,533.7 810.1,533.4 810.4,533.1 810.6,532.8 810.9,532.5 811.1,532.2 811.3,531.9 811.5,531.6 811.7,531.2 811.9,530.9 812.1,530.6 812.2,530.3 812.4,530 812.5,529.7 812.7,529.4 812.7,529.1 812.8,528.8 812.8,528.5 812.8,528.2 812.8,527.9 812.7,527.6 812.7,527.3 812.7,527 812.6,526.7 812.6,526.4 812.5,526.1 812.5,525.8 812.4,525.5 812.3,525.2 812.3,524.9 812.2,524.6 812.1,524.2 811.9,523.9 811.7,523.6 811.6,523.3 811.3,523 811.1,522.7 810.8,522.4 810.4,522.1 809.9,521.8 809.2,521.5 808.5,521.2 807.7,520.9Z"/>
<path d="M1001.6,461.2 1001.3,461.9 1001,462.6 1000.7,463.3 1000.4,464 1000.1,464.6 999.7,465.3 999.4,466 999.1,466.7 998.7,467.3 998.3,468 998,468.7 997.6,469.4 997.2,470 996.8,470.7 996.4,471.4 996,472.1 995.6,472.7 995.2,473.4 994.8,474.1 994.4,474.8 993.9,475.5 993.5,476.1 993.1,476.8 992.6,477.5 992.1,478.2 991.6,478.8 991.1,479.5 990.5,480.2 989.9,480.9 989.4,481.5 988.8,482.2 988.2,482.9 987.6,483.6 987.1,484.2 986.5,484.9 986,485.6 985.6,486.3 985.1,487 984.7,487.6 984.3,488.3 984,489 983.7,489.7 983.4,490.3 983,491 982.7,491.7 982.5,492.4 982.2,493 981.9,493.7 981.6,494.4 981.4,495.1 981.2,495.7 980.9,496.4 980.7,497.1 980.5,497.8 980.3,498.5 980.1,499.1 980,499.8 979.8,500.5 979.7,501.2 979.6,501.8 979.4,502.5 979.3,503.2 979.2,503.9 979,504.5 978.9,505.2 978.8,505.9 978.7,506.6 978.6,507.2 978.5,507.9 978.4,508.6 978.3,509.3 978.2,510 978.1,510.6 978,511.3 978,512 977.9,512.7 977.8,513.3 977.7,514 977.6,514.7 977.5,515.4 977.5,516 977.4,516.7 977.3,517.4 977.3,518.1 977.2,518.7 977.1,519.4 977.1,520.1 977,520.8 977,521.5 976.9,522.1 976.9,522.8 976.8,523.5 976.8,524.2 976.7,524.8 976.7,525.5 976.6,526.2 976.5,526.9 976.5,527.5 976.4,528.2 976.3,528.9 976.2,529.6 976.1,530.2 976,530.9 975.9,531.6 975.8,532.3 975.7,532.9 975.5,533.6 975.3,534.3 975.2,535 975,535.7 974.8,536.3 974.5,537 974.3,537.7 974.1,538.4 973.8,539 973.6,539.7 973.3,540.4 973,541.1 972.8,541.7 972.5,542.4 972.2,543.1 971.8,543.8 971.4,544.4 971,545.1 970.5,545.8 970,546.5 969.5,547.2 968.9,547.8 968.4,548.5 967.8,549.2 967.3,549.9 966.7,550.5 966.2,551.2 965.7,551.9 965.2,552.6 964.7,553.2 964.3,553.9 963.8,554.6 963.4,555.3 963,555.9 962.5,556.6 962.1,557.3 961.7,558 961.3,558.7 960.9,559.3 960.6,560 960.3,560.7 960.1,561.4 959.9,562 959.8,562.7 959.7,563.4 959.5,564.1 959.5,564.7 959.4,565.4 959.5,566.1 959.6,566.8 959.8,567.4 960.1,568.1 960.4,568.8 1058.8,568.8 1059.2,568.1 1059.5,567.4 1059.7,566.8 1059.8,566.1 1059.8,565.4 1059.8,564.7 1059.7,564.1 1059.6,563.4 1059.5,562.7 1059.4,562 1059.2,561.4 1059,560.7 1058.7,560 1058.4,559.3 1058,558.7 1057.6,558 1057.2,557.3 1056.8,556.6 1056.3,555.9 1055.9,555.3 1055.4,554.6 1055,553.9 1054.6,553.2 1054.1,552.6 1053.6,551.9 1053.1,551.2 1052.6,550.5 1052,549.9 1051.5,549.2 1050.9,548.5 1050.4,547.8 1049.8,547.2 1049.3,546.5 1048.8,545.8 1048.3,545.1 1047.9,544.4 1047.5,543.8 1047.1,543.1 1046.8,542.4 1046.5,541.7 1046.2,541.1 1046,540.4 1045.7,539.7 1045.4,539 1045.2,538.4 1045,537.7 1044.7,537 1044.5,536.3 1044.3,535.7 1044.1,535 1043.9,534.3 1043.8,533.6 1043.6,532.9 1043.5,532.3 1043.4,531.6 1043.2,530.9 1043.1,530.2 1043.1,529.6 1043,528.9 1042.9,528.2 1042.8,527.5 1042.7,526.9 1042.7,526.2 1042.6,525.5 1042.6,524.8 1042.5,524.2 1042.5,523.5 1042.4,522.8 1042.4,522.1 1042.3,521.5 1042.2,520.8 1042.2,520.1 1042.1,519.4 1042.1,518.7 1042,518.1 1042,517.4 1041.9,516.7 1041.8,516 1041.7,515.4 1041.7,514.7 1041.6,514 1041.5,513.3 1041.4,512.7 1041.3,512 1041.2,511.3 1041.2,510.6 1041.1,510 1041,509.3 1040.9,508.6 1040.8,507.9 1040.7,507.2 1040.6,506.6 1040.5,505.9 1040.4,505.2 1040.2,504.5 1040.1,503.9 1040,503.2 1039.9,502.5 1039.7,501.8 1039.6,501.2 1039.4,500.5 1039.3,499.8 1039.1,499.1 1039,498.5 1038.8,497.8 1038.6,497.1 1038.4,496.4 1038.1,495.7 1037.9,495.1 1037.6,494.4 1037.4,493.7 1037.1,493 1036.8,492.4 1036.5,491.7 1036.2,491 1035.9,490.3 1035.6,489.7 1035.3,489 1034.9,488.3 1034.6,487.6 1034.2,487 1033.7,486.3 1033.2,485.6 1032.7,484.9 1032.2,484.2 1031.6,483.6 1031.1,482.9 1030.5,482.2 1029.9,481.5 1029.3,480.9 1028.8,480.2 1028.2,479.5 1027.7,478.8 1027.2,478.2 1026.7,477.5 1026.2,476.8 1025.8,476.1 1025.3,475.5 1024.9,474.8 1024.5,474.1 1024.1,473.4 1023.7,472.7 1023.3,472.1 1022.9,471.4 1022.5,470.7 1022.1,470 1021.7,469.4 1021.3,468.7 1021,468 1020.6,467.3 1020.2,466.7 1019.9,466 1019.5,465.3 1019.2,464.6 1018.9,464 1018.6,463.3 1018.2,462.6 1017.9,461.9 1017.6,461.2Z"/>
<path d="M1122,395.9 1121.6,397 1121.1,398.1 1120.7,399.2 1120.2,400.2 1119.7,401.3 1119.2,402.4 1118.7,403.5 1118.2,404.6 1117.6,405.7 1117.1,406.8 1116.5,407.9 1115.9,408.9 1115.3,410 1114.7,411.1 1114.1,412.2 1113.5,413.3 1112.8,414.4 1112.1,415.5 1111.4,416.6 1110.7,417.6 1110,418.7 1109.2,419.8 1108.5,420.9 1107.7,422 1106.9,423.1 1106.2,424.2 1105.3,425.3 1104.5,426.3 1103.6,427.4 1102.7,428.5 1101.7,429.6 1100.7,430.7 1099.8,431.8 1098.8,432.9 1097.9,434 1097,435 1096.1,436.1 1095.3,437.2 1094.5,438.3 1093.7,439.4 1093,440.5 1092.2,441.6 1091.4,442.7 1090.6,443.7 1089.9,444.8 1089.2,445.9 1088.5,447 1087.8,448.1 1087.3,449.2 1086.7,450.3 1086.3,451.4 1085.9,452.4 1085.6,453.5 1085.4,454.6 1085.1,455.7 1084.9,456.8 1084.7,457.9 1084.4,459 1084.3,460.1 1084.1,461.1 1083.9,462.2 1083.8,463.3 1083.7,464.4 1083.6,465.5 1083.6,466.6 1083.6,467.7 1083.7,468.8 1083.8,469.8 1083.9,470.9 1084.1,472 1084.2,473.1 1084.5,474.2 1084.7,475.3 1084.9,476.4 1085.2,477.5 1085.5,478.5 1085.8,479.6 1086,480.7 1086.4,481.8 1086.7,482.9 1087.2,484 1087.7,485.1 1088.2,486.2 1088.7,487.2 1089.3,488.3 1089.9,489.4 1090.5,490.5 1091.1,491.6 1091.7,492.7 1092.3,493.8 1092.8,494.9 1093.3,495.9 1093.8,497 1094.3,498.1 1094.9,499.2 1095.4,500.3 1095.9,501.4 1096.4,502.5 1096.9,503.6 1097.4,504.6 1097.9,505.7 1098.3,506.8 1098.7,507.9 1099.2,509 1099.5,510.1 1099.9,511.2 1100.2,512.3 1100.5,513.3 1100.8,514.4 1101.2,515.5 1101.5,516.6 1101.8,517.7 1102.1,518.8 1102.3,519.9 1102.6,521 1102.8,522 1103,523.1 1103.2,524.2 1103.3,525.3 1103.4,526.4 1103.4,527.5 1103.5,528.6 1103.5,529.7 1103.5,530.7 1103.6,531.8 1103.6,532.9 1103.6,534 1103.6,535.1 1103.7,536.2 1103.7,537.3 1103.7,538.4 1103.7,539.4 1103.7,540.5 1103.7,541.6 1103.7,542.7 1103.7,543.8 1103.5,544.9 1103.4,546 1103.2,547.1 1103,548.1 1102.7,549.2 1102.5,550.3 1102.4,551.4 1102.2,552.5 1102.1,553.6 1102.1,554.7 1102.1,555.8 1102.1,556.8 1102.1,557.9 1102.1,559 1102,560.1 1102,561.2 1102,562.3 1102,563.4 1102,564.5 1102,565.5 1102,566.6 1102,567.7 1102,568.8 1164.2,568.8 1164.2,567.7 1164.2,566.6 1164.2,565.5 1164.2,564.5 1164.2,563.4 1164.2,562.3 1164.2,561.2 1164.2,560.1 1164.2,559 1164.2,557.9 1164.1,556.8 1164.1,555.8 1164.1,554.7 1164.1,553.6 1164,552.5 1163.9,551.4 1163.7,550.3 1163.5,549.2 1163.3,548.1 1163,547.1 1162.8,546 1162.7,544.9 1162.6,543.8 1162.5,542.7 1162.5,541.6 1162.5,540.5 1162.5,539.4 1162.5,538.4 1162.6,537.3 1162.6,536.2 1162.6,535.1 1162.6,534 1162.6,532.9 1162.7,531.8 1162.7,530.7 1162.7,529.7 1162.8,528.6 1162.8,527.5 1162.8,526.4 1162.9,525.3 1163.1,524.2 1163.2,523.1 1163.4,522 1163.6,521 1163.9,519.9 1164.2,518.8 1164.4,517.7 1164.7,516.6 1165.1,515.5 1165.4,514.4 1165.7,513.3 1166,512.3 1166.3,511.2 1166.7,510.1 1167.1,509 1167.5,507.9 1167.9,506.8 1168.4,505.7 1168.8,504.6 1169.3,503.6 1169.8,502.5 1170.3,501.4 1170.9,500.3 1171.4,499.2 1171.9,498.1 1172.4,497 1172.9,495.9 1173.4,494.9 1173.9,493.8 1174.5,492.7 1175.1,491.6 1175.7,490.5 1176.3,489.4 1176.9,488.3 1177.5,487.2 1178,486.2 1178.6,485.1 1179,484 1179.5,482.9 1179.9,481.8 1180.2,480.7 1180.5,479.6 1180.7,478.5 1181,477.5 1181.3,476.4 1181.5,475.3 1181.8,474.2 1182,473.1 1182.2,472 1182.3,470.9 1182.5,469.8 1182.6,468.8 1182.6,467.7 1182.6,466.6 1182.6,465.5 1182.5,464.4 1182.4,463.3 1182.3,462.2 1182.1,461.1 1182,460.1 1181.8,459 1181.6,457.9 1181.4,456.8 1181.1,455.7 1180.9,454.6 1180.6,453.5 1180.3,452.4 1179.9,451.4 1179.5,450.3 1179,449.2 1178.4,448.1 1177.7,447 1177.1,445.9 1176.3,444.8 1175.6,443.7 1174.8,442.7 1174.1,441.6 1173.3,440.5 1172.5,439.4 1171.7,438.3 1171,437.2 1170.1,436.1 1169.3,435 1168.4,434 1167.4,432.9 1166.5,431.8 1165.5,430.7 1164.5,429.6 1163.6,428.5 1162.6,427.4 1161.7,426.3 1160.9,425.3 1160.1,424.2 1159.3,423.1 1158.5,422 1157.8,420.9 1157,419.8 1156.3,418.7 1155.5,417.6 1154.8,416.6 1154.1,415.5 1153.4,414.4 1152.8,413.3 1152.1,412.2 1151.5,411.1 1150.9,410 1150.3,408.9 1149.7,407.9 1149.1,406.8 1148.6,405.7 1148,404.6 1147.5,403.5 1147,402.4 1146.5,401.3 1146,400.2 1145.5,399.2 1145.1,398.1 1144.6,397 1144.2,395.9Z"/>
<path d="M1207.7,568.8 H1305.5" stroke-linecap="round"/>
</g>
<g fill="#b3b3b3" fill-opacity="0.6" stroke="#b3b3b3" stroke-opacity="0.6" stroke-width="1.89">
<circle cx="96.3" cy="568.9" r="5.21"/>
<circle cx="97.8" cy="568.9" r="5.21"/>
<circle cx="99.2" cy="568.9" r="5.21"/>
<circle cx="100.6" cy="568.9" r="5.21"/>
<circle cx="102" cy="568.9" r="5.21"/>
<circle cx="103.4" cy="568.9" r="5.21"/>
<circle cx="104.9" cy="568.9" r="5.21"/>
<circle cx="106.3" cy="568.9" r="5.21"/>
<circle cx="107.7" cy="568.9" r="5.21"/>
<circle cx="109.1" cy="568.9" r="5.21"/>
<circle cx="110.5" cy="568.9" r="5.21"/>
<circle cx="112" cy="568.9" r="5.21"/>
<circle cx="113.4" cy="568.9" r="5.21"/>
<circle cx="114.8" cy="568.9" r="5.21"/>
<circle cx="116.2" cy="568.9" r="5.21"/>
<circle cx="117.6" cy="568.9" r="5.21"/>
<circle cx="119.1" cy="568.9" r="5.21"/>
<circle cx="120.5" cy="568.9" r="5.21"/>
<circle cx="121.9" cy="568.9" r="5.21"/>
<circle cx="123.3" cy="568.9" r="5.21"/>
<circle cx="124.7" cy="568.9" r="5.21"/>
<circle cx="126.2" cy="568.9" r="5.21"/>
<circle cx="127.6" cy="568.9" r="5.21"/>
<circle cx="129" cy="568.9" r="5.21"/>
<circle cx="130.4" cy="568.9" r="5.21"/>
<circle cx="131.8" cy="568.9" r="5.21"/>
<circle cx="133.3" cy="568.9" r="5.21"/>
<circle cx="134.7" cy="568.9" r="5.21"/>
<circle cx="136.1" cy="568.9" r="5.21"/>
<circle cx="137.5" cy="568.9" r="5.21"/>
<circle cx="138.9" cy="568.9" r="5.21"/>
<circle cx="140.4" cy="568.9" r="5.21"/>
<circle cx="141.8" cy="568.9" r="5.21"/>
<circle cx="143.2" cy="568.9" r="5.21"/>
<circle cx="144.6" cy="568.9" r="5.21"/>
<circle cx="146" cy="568.9" r="5.21"/>
<circle cx="147.5" cy="568.9" r="5.21"/>
<circle cx="148.9" cy="568.9" r="5.21"/>
<circle cx="150.3" cy="568.9" r="5.21"/>
<circle cx="151.7" cy="568.9" r="5.21"/>
<circle cx="153.1" cy="568.9" r="5.21"/>
<circle cx="154.6" cy="568.9" r="5.21"/>
<circle cx="156" cy="568.9" r="5.21"/>
<circle cx="157.4" cy="568.9" r="5.21"/>
<circle cx="158.8" cy="568.9" r="5.21"/>
<circle cx="160.2" cy="568.9" r="5.21"/>
<circle cx="161.7" cy="568.9" r="5.21"/>
<circle cx="163.1" cy="568.9" r="5.21"/>
<circle cx="164.5" cy="568.9" r="5.21"/>
<circle cx="165.9" cy="568.9" r="5.21"/>
<circle cx="167.3" cy="568.9" r="5.21"/>
<circle cx="168.8" cy="568.9" r="5.21"/>
<circle cx="170.2" cy="568.9" r="5.21"/>
<circle cx="171.6" cy="568.9" r="5.21"/>
<circle cx="173" cy="568.9" r="5.21"/>
<circle cx="174.4" cy="568.9" r="5.21"/>
<circle cx="175.9" cy="568.9" r="5.21"/>
<circle cx="177.3" cy="568.9" r="5.21"/>
<circle cx="178.7" cy="568.9" r="5.21"/>
<circle cx="180.1" cy="568.9" r="5.21"/>
<circle cx="181.6" cy="568.9" r="5.21"/>
<circle cx="183" cy="568.9" r="5.21"/>
<circle cx="184.4" cy="568.9" r="5.21"/>
<circle cx="185.8" cy="568.9" r="5.21"/>
<circle cx="187.2" cy="568.9" r="5.21"/>
<circle cx="188.7" cy="568.9" r="5.21"/>
<circle cx="190.1" cy="568.9" r="5.21"/>
<circle cx="191.5" cy="568.9" r="5.21"/>
<circle cx="192.9" cy="568.9" r="5.21"/>
<circle cx="194.3" cy="568.9" r="5.21"/>
<circle cx="145.4" cy="469" r="5.21"/>
<circle cx="145.1" cy="470.6" r="5.21"/>
<circle cx="145.4" cy="470.6" r="5.21"/>
<circle cx="144.9" cy="478.9" r="5.21"/>
<circle cx="145.9" cy="479.4" r="5.21"/>
<circle cx="145.4" cy="479.4" r="5.21"/>
<circle cx="145.8" cy="482.1" r="5.21"/>
<circle cx="144.5" cy="483.6" r="5.21"/>
<circle cx="145.2" cy="485.3" r="5.21"/>
<circle cx="145.5" cy="485.7" r="5.21"/>
<circle cx="146" cy="486.7" r="5.21"/>
<circle cx="144.8" cy="486.7" r="5.21"/>
<circle cx="145.7" cy="490" r="5.21"/>
<circle cx="144.9" cy="490.2" r="5.21"/>
<circle cx="146.7" cy="494.4" r="5.21"/>
<circle cx="143.9" cy="496.1" r="5.21"/>
<circle cx="145.3" cy="496.7" r="5.21"/>
<circle cx="144.4" cy="496.9" r="5.21"/>
<circle cx="146.4" cy="497.5" r="5.21"/>
<circle cx="144" cy="497.6" r="5.21"/>
<circle cx="145.5" cy="498.9" r="5.21"/>
<circle cx="144.9" cy="499.4" r="5.21"/>
<circle cx="146.9" cy="500.1" r="5.21"/>
<circle cx="143.8" cy="500.3" r="5.21"/>
<circle cx="145.5" cy="501" r="5.21"/>
<circle cx="144.7" cy="503" r="5.21"/>
<circle cx="147.5" cy="503.8" r="5.21"/>
<circle cx="143.7" cy="505.3" r="5.21"/>
<circle cx="146.4" cy="506.3" r="5.21"/>
<circle cx="145.2" cy="507.7" r="5.21"/>
<circle cx="148.1" cy="508.5" r="5.21"/>
<circle cx="142.1" cy="508.7" r="5.21"/>
<circle cx="145.6" cy="511.2" r="5.21"/>
<circle cx="144.4" cy="511.9" r="5.21"/>
<circle cx="147" cy="512.2" r="5.21"/>
<circle cx="142.9" cy="512.4" r="5.21"/>
<circle cx="146" cy="513.3" r="5.21"/>
<circle cx="144.7" cy="516.1" r="5.21"/>
<circle cx="147.7" cy="517" r="5.21"/>
<circle cx="142" cy="517.6" r="5.21"/>
<circle cx="146.3" cy="517.6" r="5.21"/>
<circle cx="143.8" cy="517.9" r="5.21"/>
<circle cx="148" cy="518" r="5.21"/>
<circle cx="143.7" cy="518.4" r="5.21"/>
<circle cx="146.9" cy="519.4" r="5.21"/>
<circle cx="145.2" cy="519.7" r="5.21"/>
<circle cx="149.2" cy="520.5" r="5.21"/>
<circle cx="142" cy="520.6" r="5.21"/>
<circle cx="145.5" cy="521" r="5.21"/>
<circle cx="143.5" cy="521.1" r="5.21"/>
<circle cx="147.5" cy="521.3" r="5.21"/>
<circle cx="143.4" cy="521.9" r="5.21"/>
<circle cx="146.9" cy="522.1" r="5.21"/>
<circle cx="144.5" cy="522.4" r="5.21"/>
<circle cx="148.1" cy="522.7" r="5.21"/>
<circle cx="142.4" cy="522.8" r="5.21"/>
<circle cx="146.2" cy="523.3" r="5.21"/>
<circle cx="144.3" cy="523.7" r="5.21"/>
<circle cx="148" cy="524.6" r="5.21"/>
<circle cx="143.5" cy="525.5" r="5.21"/>
<circle cx="146.9" cy="526.4" r="5.21"/>
<circle cx="145.2" cy="526.7" r="5.21"/>
<circle cx="148.8" cy="526.9" r="5.21"/>
<circle cx="141.9" cy="526.9" r="5.21"/>
<circle cx="145.5" cy="528.2" r="5.21"/>
<circle cx="144.3" cy="531.1" r="5.21"/>
<circle cx="147.2" cy="531.5" r="5.21"/>
<circle cx="142.9" cy="532.6" r="5.21"/>
<circle cx="145.7" cy="533.1" r="5.21"/>
<circle cx="144.7" cy="533.9" r="5.21"/>
<circle cx="147.2" cy="534.5" r="5.21"/>
<circle cx="142.2" cy="535.5" r="5.21"/>
<circle cx="146" cy="535.6" r="5.21"/>
<circle cx="144.4" cy="535.6" r="5.21"/>
<circle cx="147.3" cy="537" r="5.21"/>
<circle cx="142.9" cy="537.3" r="5.21"/>
<circle cx="146.4" cy="537.4" r="5.21"/>
<circle cx="144.8" cy="537.6" r="5.21"/>
<circle cx="148.3" cy="538.5" r="5.21"/>
<circle cx="143.2" cy="538.6" r="5.21"/>
<circle cx="145.6" cy="539" r="5.21"/>
<circle cx="143.8" cy="540.2" r="5.21"/>
<circle cx="146.7" cy="540.3" r="5.21"/>
<circle cx="143.3" cy="541.1" r="5.21"/>
<circle cx="146.2" cy="542.3" r="5.21"/>
<circle cx="144.5" cy="543.9" r="5.21"/>
<circle cx="147.7" cy="544" r="5.21"/>
<circle cx="142.8" cy="544.4" r="5.21"/>
<circle cx="146.2" cy="544.8" r="5.21"/>
<circle cx="144.8" cy="544.9" r="5.21"/>
<circle cx="147.5" cy="546.9" r="5.21"/>
<circle cx="143.8" cy="547.7" r="5.21"/>
<circle cx="146.6" cy="549.6" r="5.21"/>
<circle cx="145.2" cy="550.8" r="5.21"/>
<circle cx="147.3" cy="552.2" r="5.21"/>
<circle cx="145.3" cy="300.2" r="5.21"/>
<circle cx="145.3" cy="345.5" r="5.21"/>
<circle cx="145.3" cy="371.2" r="5.21"/>
<circle cx="145.3" cy="424" r="5.21"/>
<circle cx="145.7" cy="449" r="5.21"/>
<circle cx="144.7" cy="452.5" r="5.21"/>
<circle cx="145.3" cy="463" r="5.21"/>
<circle cx="144.7" cy="459" r="5.21"/>
<circle cx="152" cy="556" r="5.21"/>
<circle cx="136.5" cy="562" r="5.21"/>
<circle cx="140.6" cy="553.8" r="5.21"/>
<circle cx="148.6" cy="557.5" r="5.21"/>
<circle cx="220.6" cy="568.9" r="5.21"/>
<circle cx="222" cy="568.9" r="5.21"/>
<circle cx="223.4" cy="568.9" r="5.21"/>
<circle cx="224.8" cy="568.9" r="5.21"/>
<circle cx="226.2" cy="568.9" r="5.21"/>
<circle cx="227.6" cy="568.9" r="5.21"/>
<circle cx="229" cy="568.9" r="5.21"/>
<circle cx="230.4" cy="568.9" r="5.21"/>
<circle cx="231.8" cy="568.9" r="5.21"/>
<circle cx="233.2" cy="568.9" r="5.21"/>
<circle cx="234.6" cy="568.9" r="5.21"/>
<circle cx="236" cy="568.9" r="5.21"/>
<circle cx="237.4" cy="568.9" r="5.21"/>
<circle cx="238.8" cy="568.9" r="5.21"/>
<circle cx="240.2" cy="568.9" r="5.21"/>
<circle cx="241.6" cy="568.9" r="5.21"/>
<circle cx="243" cy="568.9" r="5.21"/>
<circle cx="244.4" cy="568.9" r="5.21"/>
<circle cx="245.8" cy="568.9" r="5.21"/>
<circle cx="247.2" cy="568.9" r="5.21"/>
<circle cx="248.5" cy="568.9" r="5.21"/>
<circle cx="249.9" cy="568.9" r="5.21"/>
<circle cx="251.3" cy="568.9" r="5.21"/>
<circle cx="252.7" cy="568.9" r="5.21"/>
<circle cx="254.1" cy="568.9" r="5.21"/>
<circle cx="255.5" cy="568.9" r="5.21"/>
<circle cx="256.9" cy="568.9" r="5.21"/>
<circle cx="258.3" cy="568.9" r="5.21"/>
<circle cx="259.7" cy="568.9" r="5.21"/>
<circle cx="261.1" cy="568.9" r="5.21"/>
<circle cx="262.5" cy="568.9" r="5.21"/>
<circle cx="263.9" cy="568.9" r="5.21"/>
<circle cx="265.3" cy="568.9" r="5.21"/>
<circle cx="266.7" cy="568.9" r="5.21"/>
<circle cx="268.1" cy="568.9" r="5.21"/>
<circle cx="269.5" cy="568.9" r="5.21"/>
<circle cx="270.9" cy="568.9" r="5.21"/>
<circle cx="272.3" cy="568.9" r="5.21"/>
<circle cx="273.7" cy="568.9" r="5.21"/>
<circle cx="275.1" cy="568.9" r="5.21"/>
<circle cx="276.5" cy="568.9" r="5.21"/>
<circle cx="277.9" cy="568.9" r="5.21"/>
<circle cx="279.3" cy="568.9" r="5.21"/>
<circle cx="280.7" cy="568.9" r="5.21"/>
<circle cx="282.1" cy="568.9" r="5.21"/>
<circle cx="283.5" cy="568.9" r="5.21"/>
<circle cx="284.9" cy="568.9" r="5.21"/>
<circle cx="286.3" cy="568.9" r="5.21"/>
<circle cx="287.7" cy="568.9" r="5.21"/>
<circle cx="289.1" cy="568.9" r="5.21"/>
<circle cx="290.5" cy="568.9" r="5.21"/>
<circle cx="291.9" cy="568.9" r="5.21"/>
<circle cx="293.3" cy="568.9" r="5.21"/>
<circle cx="294.7" cy="568.9" r="5.21"/>
<circle cx="296" cy="568.9" r="5.21"/>
<circle cx="297.4" cy="568.9" r="5.21"/>
<circle cx="298.8" cy="568.9" r="5.21"/>
<circle cx="300.2" cy="568.9" r="5.21"/>
<circle cx="301.6" cy="568.9" r="5.21"/>
<circle cx="303" cy="568.9" r="5.21"/>
<circle cx="304.4" cy="568.9" r="5.21"/>
<circle cx="305.8" cy="568.9" r="5.21"/>
<circle cx="307.2" cy="568.9" r="5.21"/>
<circle cx="308.6" cy="568.9" r="5.21"/>
<circle cx="310" cy="568.9" r="5.21"/>
<circle cx="311.4" cy="568.9" r="5.21"/>
<circle cx="312.8" cy="568.9" r="5.21"/>
<circle cx="314.2" cy="568.9" r="5.21"/>
<circle cx="315.6" cy="568.9" r="5.21"/>
<circle cx="317" cy="568.9" r="5.21"/>
<circle cx="268.9" cy="437.2" r="5.21"/>
<circle cx="261.5" cy="439.3" r="5.21"/>
<circle cx="276.5" cy="440.4" r="5.21"/>
<circle cx="257.7" cy="443.4" r="5.21"/>
<circle cx="272.1" cy="445.2" r="5.21"/>
<circle cx="264" cy="445.6" r="5.21"/>
<circle cx="280.5" cy="445.7" r="5.21"/>
<circle cx="254.9" cy="445.9" r="5.21"/>
<circle cx="270.4" cy="446" r="5.21"/>
<circle cx="262.4" cy="449.3" r="5.21"/>
<circle cx="279.2" cy="449.4" r="5.21"/>
<circle cx="258.1" cy="450.4" r="5.21"/>
<circle cx="275.3" cy="452.1" r="5.21"/>
<circle cx="266.4" cy="453.2" r="5.21"/>
<circle cx="285.9" cy="454" r="5.21"/>
<circle cx="251.9" cy="455" r="5.21"/>
<circle cx="269.6" cy="456.5" r="5.21"/>
<circle cx="259.7" cy="457" r="5.21"/>
<circle cx="279.8" cy="457.3" r="5.21"/>
<circle cx="255.1" cy="457.6" r="5.21"/>
<circle cx="274.6" cy="457.6" r="5.21"/>
<circle cx="264.7" cy="457.7" r="5.21"/>
<circle cx="285.5" cy="457.8" r="5.21"/>
<circle cx="250.9" cy="459.8" r="5.21"/>
<circle cx="272.4" cy="460.1" r="5.21"/>
<circle cx="261.7" cy="460.9" r="5.21"/>
<circle cx="282.9" cy="461.3" r="5.21"/>
<circle cx="255.4" cy="462.4" r="5.21"/>
<circle cx="278.5" cy="462.5" r="5.21"/>
<circle cx="267.4" cy="464" r="5.21"/>
<circle cx="291.1" cy="465.6" r="5.21"/>
<circle cx="244.8" cy="465.7" r="5.21"/>
<circle cx="269.3" cy="467.3" r="5.21"/>
<circle cx="257.6" cy="467.7" r="5.21"/>
<circle cx="282.6" cy="469.2" r="5.21"/>
<circle cx="250.4" cy="469.2" r="5.21"/>
<circle cx="275.6" cy="469.3" r="5.21"/>
<circle cx="263.5" cy="469.7" r="5.21"/>
<circle cx="288.6" cy="469.7" r="5.21"/>
<circle cx="246.1" cy="470.6" r="5.21"/>
<circle cx="272.5" cy="471.2" r="5.21"/>
<circle cx="260.3" cy="472.3" r="5.21"/>
<circle cx="286.7" cy="472.6" r="5.21"/>
<circle cx="253" cy="473.5" r="5.21"/>
<circle cx="279.8" cy="474.1" r="5.21"/>
<circle cx="266.6" cy="475.8" r="5.21"/>
<circle cx="294.4" cy="475.8" r="5.21"/>
<circle cx="242.7" cy="476.1" r="5.21"/>
<circle cx="272.8" cy="476.7" r="5.21"/>
<circle cx="257.4" cy="476.8" r="5.21"/>
<circle cx="285.9" cy="477.3" r="5.21"/>
<circle cx="249.5" cy="477.6" r="5.21"/>
<circle cx="279.1" cy="477.8" r="5.21"/>
<circle cx="264.8" cy="477.9" r="5.21"/>
<circle cx="293.6" cy="478.6" r="5.21"/>
<circle cx="244.7" cy="478.6" r="5.21"/>
<circle cx="275.2" cy="478.7" r="5.21"/>
<circle cx="260.4" cy="478.9" r="5.21"/>
<circle cx="290.4" cy="479.1" r="5.21"/>
<circle cx="253.5" cy="479.4" r="5.21"/>
<circle cx="283.1" cy="479.4" r="5.21"/>
<circle cx="268.3" cy="480.9" r="5.21"/>
<circle cx="298.2" cy="481.5" r="5.21"/>
<circle cx="238.4" cy="482.4" r="5.21"/>
<circle cx="270.3" cy="482.7" r="5.21"/>
<circle cx="253.9" cy="482.8" r="5.21"/>
<circle cx="285.4" cy="483.6" r="5.21"/>
<circle cx="245.2" cy="484.4" r="5.21"/>
<circle cx="278.3" cy="484.5" r="5.21"/>
<circle cx="260.6" cy="486.5" r="5.21"/>
<circle cx="294.4" cy="487" r="5.21"/>
<circle cx="240.3" cy="487" r="5.21"/>
<circle cx="273.9" cy="487.1" r="5.21"/>
<circle cx="256.5" cy="487.2" r="5.21"/>
<circle cx="290.5" cy="487.3" r="5.21"/>
<circle cx="248.1" cy="487.8" r="5.21"/>
<circle cx="282.1" cy="487.8" r="5.21"/>
<circle cx="265" cy="488.3" r="5.21"/>
<circle cx="298.9" cy="489.1" r="5.21"/>
<circle cx="236.9" cy="489.5" r="5.21"/>
<circle cx="272" cy="490.3" r="5.21"/>
<circle cx="253.5" cy="490.9" r="5.21"/>
<circle cx="289.1" cy="491.3" r="5.21"/>
<circle cx="245.1" cy="493.2" r="5.21"/>
<circle cx="280.1" cy="494.1" r="5.21"/>
<circle cx="262.7" cy="495.6" r="5.21"/>
<circle cx="298.3" cy="496.2" r="5.21"/>
<circle cx="240.4" cy="496.7" r="5.21"/>
<circle cx="277.3" cy="498.3" r="5.21"/>
<circle cx="259.1" cy="498.8" r="5.21"/>
<circle cx="294.2" cy="499" r="5.21"/>
<circle cx="249.4" cy="499.2" r="5.21"/>
<circle cx="285.2" cy="499.8" r="5.21"/>
<circle cx="267.2" cy="499.8" r="5.21"/>
<circle cx="303.9" cy="500.6" r="5.21"/>
<circle cx="233.8" cy="500.7" r="5.21"/>
<circle cx="271" cy="501.4" r="5.21"/>
<circle cx="252.5" cy="501.6" r="5.21"/>
<circle cx="289.1" cy="501.8" r="5.21"/>
<circle cx="243.8" cy="502.2" r="5.21"/>
<circle cx="279.1" cy="502.3" r="5.21"/>
<circle cx="261.7" cy="502.7" r="5.21"/>
<circle cx="297.6" cy="503" r="5.21"/>
<circle cx="239.4" cy="503.2" r="5.21"/>
<circle cx="275.2" cy="503.4" r="5.21"/>
<circle cx="256.9" cy="504" r="5.21"/>
<circle cx="291.3" cy="505.1" r="5.21"/>
<circle cx="249" cy="505.1" r="5.21"/>
<circle cx="283.9" cy="505.7" r="5.21"/>
<circle cx="266.2" cy="505.9" r="5.21"/>
<circle cx="300.8" cy="506.4" r="5.21"/>
<circle cx="238.6" cy="507" r="5.21"/>
<circle cx="272.4" cy="507" r="5.21"/>
<circle cx="255" cy="507.1" r="5.21"/>
<circle cx="289.7" cy="507.4" r="5.21"/>
<circle cx="247.4" cy="507.5" r="5.21"/>
<circle cx="280.3" cy="508.5" r="5.21"/>
<circle cx="264.6" cy="508.8" r="5.21"/>
<circle cx="297.6" cy="508.8" r="5.21"/>
<circle cx="242.4" cy="509.2" r="5.21"/>
<circle cx="277.3" cy="510.1" r="5.21"/>
<circle cx="259.9" cy="510.3" r="5.21"/>
<circle cx="292.2" cy="511.9" r="5.21"/>
<circle cx="251.9" cy="512.8" r="5.21"/>
<circle cx="284.9" cy="513.3" r="5.21"/>
<circle cx="268.9" cy="513.3" r="5.21"/>
<circle cx="300.2" cy="513.5" r="5.21"/>
<circle cx="237.3" cy="513.7" r="5.21"/>
<circle cx="269.4" cy="513.7" r="5.21"/>
<circle cx="252.8" cy="513.7" r="5.21"/>
<circle cx="285.2" cy="513.9" r="5.21"/>
<circle cx="245.5" cy="514.7" r="5.21"/>
<circle cx="276.6" cy="514.8" r="5.21"/>
<circle cx="261.1" cy="515.5" r="5.21"/>
<circle cx="291.5" cy="516.5" r="5.21"/>
<circle cx="243.4" cy="517.1" r="5.21"/>
<circle cx="272.4" cy="517.3" r="5.21"/>
<circle cx="258.2" cy="518" r="5.21"/>
<circle cx="286.9" cy="518.7" r="5.21"/>
<circle cx="252.1" cy="519.1" r="5.21"/>
<circle cx="279.1" cy="520.4" r="5.21"/>
<circle cx="266.6" cy="522.6" r="5.21"/>
<circle cx="288.7" cy="524.2" r="5.21"/>
<circle cx="249.5" cy="524.4" r="5.21"/>
<circle cx="269.9" cy="524.8" r="5.21"/>
<circle cx="260.1" cy="525.2" r="5.21"/>
<circle cx="280.6" cy="525.6" r="5.21"/>
<circle cx="255.6" cy="525.8" r="5.21"/>
<circle cx="276.3" cy="525.9" r="5.21"/>
<circle cx="264.1" cy="526" r="5.21"/>
<circle cx="284.8" cy="526.6" r="5.21"/>
<circle cx="253.3" cy="527.1" r="5.21"/>
<circle cx="272.9" cy="528.2" r="5.21"/>
<circle cx="263.9" cy="531.2" r="5.21"/>
<circle cx="280.6" cy="531.7" r="5.21"/>
<circle cx="268.8" cy="273.2" r="5.21"/>
<circle cx="268.4" cy="334.2" r="5.21"/>
<circle cx="269.9" cy="349.9" r="5.21"/>
<circle cx="268.9" cy="379" r="5.21"/>
<circle cx="269.4" cy="400.5" r="5.21"/>
<circle cx="265.7" cy="539.7" r="5.21"/>
<circle cx="261.9" cy="431" r="5.21"/>
<circle cx="271.9" cy="428" r="5.21"/>
<circle cx="275.9" cy="434" r="5.21"/>
<circle cx="393.3" cy="191.3" r="5.21"/>
<circle cx="384.7" cy="191.6" r="5.21"/>
<circle cx="402" cy="196.5" r="5.21"/>
<circle cx="376" cy="197.2" r="5.21"/>
<circle cx="398.3" cy="198.3" r="5.21"/>
<circle cx="386.5" cy="199.7" r="5.21"/>
<circle cx="411.2" cy="200.5" r="5.21"/>
<circle cx="369.6" cy="200.7" r="5.21"/>
<circle cx="395.7" cy="202.1" r="5.21"/>
<circle cx="380.9" cy="202.9" r="5.21"/>
<circle cx="409.2" cy="203" r="5.21"/>
<circle cx="374.4" cy="204.1" r="5.21"/>
<circle cx="403.2" cy="204.6" r="5.21"/>
<circle cx="388.7" cy="205.3" r="5.21"/>
<circle cx="421.2" cy="206.9" r="5.21"/>
<circle cx="361.6" cy="207.7" r="5.21"/>
<circle cx="394.4" cy="208.1" r="5.21"/>
<circle cx="378.5" cy="208.6" r="5.21"/>
<circle cx="412.2" cy="209.4" r="5.21"/>
<circle cx="368.1" cy="209.4" r="5.21"/>
<circle cx="403.6" cy="209.6" r="5.21"/>
<circle cx="385.8" cy="210.1" r="5.21"/>
<circle cx="420.9" cy="210.3" r="5.21"/>
<circle cx="363.3" cy="210.3" r="5.21"/>
<circle cx="399" cy="210.6" r="5.21"/>
<circle cx="380" cy="210.7" r="5.21"/>
<circle cx="417.4" cy="211.2" r="5.21"/>
<circle cx="371.5" cy="211.3" r="5.21"/>
<circle cx="408.4" cy="212" r="5.21"/>
<circle cx="389.1" cy="212.8" r="5.21"/>
<circle cx="428.2" cy="213.2" r="5.21"/>
<circle cx="354.2" cy="214.1" r="5.21"/>
<circle cx="393.6" cy="215.4" r="5.21"/>
<circle cx="372.8" cy="215.4" r="5.21"/>
<circle cx="414.6" cy="216.6" r="5.21"/>
<circle cx="361.7" cy="216.9" r="5.21"/>
<circle cx="403.9" cy="217.2" r="5.21"/>
<circle cx="383.8" cy="217.2" r="5.21"/>
<circle cx="424.9" cy="217.5" r="5.21"/>
<circle cx="356.2" cy="217.9" r="5.21"/>
<circle cx="399.5" cy="218.4" r="5.21"/>
<circle cx="377.3" cy="218.4" r="5.21"/>
<circle cx="420.3" cy="218.5" r="5.21"/>
<circle cx="366.7" cy="219" r="5.21"/>
<circle cx="410.4" cy="219" r="5.21"/>
<circle cx="387.1" cy="219.1" r="5.21"/>
<circle cx="431.6" cy="219.7" r="5.21"/>
<circle cx="351.9" cy="219.8" r="5.21"/>
<circle cx="395.9" cy="219.9" r="5.21"/>
<circle cx="373.9" cy="220.1" r="5.21"/>
<circle cx="418.2" cy="220.2" r="5.21"/>
<circle cx="363.3" cy="220.2" r="5.21"/>
<circle cx="407.2" cy="220.7" r="5.21"/>
<circle cx="385.4" cy="220.8" r="5.21"/>
<circle cx="430.4" cy="221.1" r="5.21"/>
<circle cx="356.7" cy="221.2" r="5.21"/>
<circle cx="402.3" cy="221.9" r="5.21"/>
<circle cx="380.2" cy="222.5" r="5.21"/>
<circle cx="425.6" cy="222.8" r="5.21"/>
<circle cx="367.4" cy="223.1" r="5.21"/>
<circle cx="414" cy="223.5" r="5.21"/>
<circle cx="390.4" cy="223.7" r="5.21"/>
<circle cx="437.6" cy="223.7" r="5.21"/>
<circle cx="346.5" cy="224.5" r="5.21"/>
<circle cx="392.6" cy="224.5" r="5.21"/>
<circle cx="369.4" cy="224.8" r="5.21"/>
<circle cx="417.4" cy="225.8" r="5.21"/>
<circle cx="357" cy="226.1" r="5.21"/>
<circle cx="405.1" cy="226.4" r="5.21"/>
<circle cx="380.5" cy="226.5" r="5.21"/>
<circle cx="428.5" cy="226.6" r="5.21"/>
<circle cx="350.7" cy="227" r="5.21"/>
<circle cx="400.1" cy="227.3" r="5.21"/>
<circle cx="374.8" cy="227.3" r="5.21"/>
<circle cx="422.9" cy="227.5" r="5.21"/>
<circle cx="362.6" cy="227.7" r="5.21"/>
<circle cx="411.1" cy="227.9" r="5.21"/>
<circle cx="387.3" cy="228.3" r="5.21"/>
<circle cx="435.9" cy="229.1" r="5.21"/>
<circle cx="348.1" cy="229.7" r="5.21"/>
<circle cx="396.2" cy="230.2" r="5.21"/>
<circle cx="372.2" cy="230.3" r="5.21"/>
<circle cx="420.9" cy="230.4" r="5.21"/>
<circle cx="359.4" cy="230.5" r="5.21"/>
<circle cx="407.8" cy="230.6" r="5.21"/>
<circle cx="383.7" cy="231.1" r="5.21"/>
<circle cx="433.4" cy="231.9" r="5.21"/>
<circle cx="352.5" cy="232" r="5.21"/>
<circle cx="401.3" cy="232.7" r="5.21"/>
<circle cx="377.9" cy="233.4" r="5.21"/>
<circle cx="427.3" cy="233.5" r="5.21"/>
<circle cx="364.6" cy="234.1" r="5.21"/>
<circle cx="414.9" cy="235.3" r="5.21"/>
<circle cx="389.8" cy="235.7" r="5.21"/>
<circle cx="440.3" cy="235.7" r="5.21"/>
<circle cx="343.8" cy="236.3" r="5.21"/>
<circle cx="394.2" cy="236.5" r="5.21"/>
<circle cx="369.7" cy="237.4" r="5.21"/>
<circle cx="419.7" cy="237.5" r="5.21"/>
<circle cx="356.9" cy="237.6" r="5.21"/>
<circle cx="406.9" cy="237.7" r="5.21"/>
<circle cx="381.7" cy="237.7" r="5.21"/>
<circle cx="432.1" cy="237.8" r="5.21"/>
<circle cx="351.4" cy="237.9" r="5.21"/>
<circle cx="400.3" cy="238.1" r="5.21"/>
<circle cx="376.6" cy="238.5" r="5.21"/>
<circle cx="426.3" cy="238.6" r="5.21"/>
<circle cx="363.2" cy="239.2" r="5.21"/>
<circle cx="413.6" cy="240" r="5.21"/>
<circle cx="387.7" cy="240.3" r="5.21"/>
<circle cx="437.1" cy="240.6" r="5.21"/>
<circle cx="347.6" cy="241" r="5.21"/>
<circle cx="397.5" cy="241.2" r="5.21"/>
<circle cx="372.8" cy="241.4" r="5.21"/>
<circle cx="422" cy="242.3" r="5.21"/>
<circle cx="360.8" cy="242.4" r="5.21"/>
<circle cx="408.9" cy="242.4" r="5.21"/>
<circle cx="385.6" cy="242.6" r="5.21"/>
<circle cx="433.7" cy="242.8" r="5.21"/>
<circle cx="354.4" cy="242.9" r="5.21"/>
<circle cx="403.5" cy="243.3" r="5.21"/>
<circle cx="378.7" cy="243.5" r="5.21"/>
<circle cx="427.4" cy="243.7" r="5.21"/>
<circle cx="366.6" cy="243.7" r="5.21"/>
<circle cx="415.9" cy="243.8" r="5.21"/>
<circle cx="391.8" cy="245" r="5.21"/>
<circle cx="440.2" cy="245.2" r="5.21"/>
<circle cx="343.9" cy="245.8" r="5.21"/>
<circle cx="392.3" cy="245.9" r="5.21"/>
<circle cx="368.1" cy="246.3" r="5.21"/>
<circle cx="416.9" cy="246.5" r="5.21"/>
<circle cx="355.6" cy="246.6" r="5.21"/>
<circle cx="405.3" cy="246.6" r="5.21"/>
<circle cx="380.4" cy="247" r="5.21"/>
<circle cx="428.1" cy="247.3" r="5.21"/>
<circle cx="351" cy="247.6" r="5.21"/>
<circle cx="399.1" cy="247.9" r="5.21"/>
<circle cx="375" cy="248" r="5.21"/>
<circle cx="422.8" cy="248.7" r="5.21"/>
<circle cx="363.4" cy="249.7" r="5.21"/>
<circle cx="410.8" cy="250" r="5.21"/>
<circle cx="387.4" cy="250" r="5.21"/>
<circle cx="433.1" cy="251.3" r="5.21"/>
<circle cx="350.1" cy="251.6" r="5.21"/>
<circle cx="395.6" cy="251.6" r="5.21"/>
<circle cx="372.6" cy="252" r="5.21"/>
<circle cx="418" cy="252.3" r="5.21"/>
<circle cx="361.1" cy="252.6" r="5.21"/>
<circle cx="407.2" cy="253.5" r="5.21"/>
<circle cx="383.5" cy="253.6" r="5.21"/>
<circle cx="429.6" cy="253.9" r="5.21"/>
<circle cx="357" cy="255.7" r="5.21"/>
<circle cx="400.9" cy="256.6" r="5.21"/>
<circle cx="378" cy="257.2" r="5.21"/>
<circle cx="421.9" cy="257.8" r="5.21"/>
<circle cx="369.1" cy="258.2" r="5.21"/>
<circle cx="410.7" cy="258.6" r="5.21"/>
<circle cx="390.1" cy="259.3" r="5.21"/>
<circle cx="430.1" cy="259.7" r="5.21"/>
<circle cx="353.1" cy="259.8" r="5.21"/>
<circle cx="393.6" cy="259.9" r="5.21"/>
<circle cx="373.9" cy="260.2" r="5.21"/>
<circle cx="412.7" cy="261.5" r="5.21"/>
<circle cx="364.6" cy="261.6" r="5.21"/>
<circle cx="403.5" cy="262" r="5.21"/>
<circle cx="384.6" cy="262.9" r="5.21"/>
<circle cx="421.7" cy="263.3" r="5.21"/>
<circle cx="360.6" cy="263.7" r="5.21"/>
<circle cx="399.5" cy="263.9" r="5.21"/>
<circle cx="379.4" cy="264" r="5.21"/>
<circle cx="416.5" cy="264.2" r="5.21"/>
<circle cx="370.5" cy="264.3" r="5.21"/>
<circle cx="406.9" cy="264.6" r="5.21"/>
<circle cx="389.7" cy="264.7" r="5.21"/>
<circle cx="426" cy="265.2" r="5.21"/>
<circle cx="359.9" cy="265.5" r="5.21"/>
<circle cx="395" cy="265.8" r="5.21"/>
<circle cx="379" cy="266.3" r="5.21"/>
<circle cx="413.6" cy="266.7" r="5.21"/>
<circle cx="370.4" cy="266.9" r="5.21"/>
<circle cx="404" cy="269.4" r="5.21"/>
<circle cx="387.2" cy="270.2" r="5.21"/>
<circle cx="418.4" cy="270.4" r="5.21"/>
<circle cx="368.3" cy="271" r="5.21"/>
<circle cx="398.3" cy="271.4" r="5.21"/>
<circle cx="384.9" cy="272.2" r="5.21"/>
<circle cx="412.9" cy="272.2" r="5.21"/>
<circle cx="378.5" cy="272.5" r="5.21"/>
<circle cx="405" cy="274.1" r="5.21"/>
<circle cx="391.4" cy="274.9" r="5.21"/>
<circle cx="417.3" cy="275.5" r="5.21"/>
<circle cx="368.7" cy="275.7" r="5.21"/>
<circle cx="393.1" cy="276.7" r="5.21"/>
<circle cx="380.6" cy="277.3" r="5.21"/>
<circle cx="404.1" cy="278.3" r="5.21"/>
<circle cx="377.4" cy="279" r="5.21"/>
<circle cx="397.7" cy="279.6" r="5.21"/>
<circle cx="387.8" cy="281.8" r="5.21"/>
<circle cx="406.6" cy="282.2" r="5.21"/>
<circle cx="379" cy="284.3" r="5.21"/>
<circle cx="393.9" cy="285.5" r="5.21"/>
<circle cx="387.3" cy="286.8" r="5.21"/>
<circle cx="399.8" cy="288.9" r="5.21"/>
<circle cx="386.2" cy="291.9" r="5.21"/>
<circle cx="396.4" cy="292" r="5.21"/>
<circle cx="392.3" cy="113.5" r="5.21"/>
<circle cx="391.6" cy="179" r="5.21"/>
<circle cx="393.6" cy="180.5" r="5.21"/>
<circle cx="392.3" cy="363.8" r="5.21"/>
<circle cx="392.1" cy="410.8" r="5.21"/>
<circle cx="394.1" cy="427.3" r="5.21"/>
<circle cx="390.1" cy="432" r="5.21"/>
<circle cx="393.1" cy="441" r="5.21"/>
<circle cx="392.1" cy="492" r="5.21"/>
<circle cx="392.3" cy="568.5" r="5.21"/>
<circle cx="389.6" cy="299" r="5.21"/>
<circle cx="395.6" cy="301" r="5.21"/>
<circle cx="392.6" cy="306" r="5.21"/>
<circle cx="387.6" cy="313" r="5.21"/>
<circle cx="397.1" cy="315" r="5.21"/>
<circle cx="391.1" cy="320" r="5.21"/>
<circle cx="396.1" cy="325.5" r="5.21"/>
<circle cx="388.6" cy="328" r="5.21"/>
<circle cx="393.6" cy="333" r="5.21"/>
<circle cx="391.6" cy="337.5" r="5.21"/>
<circle cx="392.1" cy="303" r="5.21"/>
<circle cx="393.1" cy="310" r="5.21"/>
<circle cx="391.6" cy="317" r="5.21"/>
<circle cx="393.1" cy="322" r="5.21"/>
<circle cx="392.1" cy="329.5" r="5.21"/>
<circle cx="391.1" cy="309.5" r="5.21"/>
<circle cx="394.1" cy="318.5" r="5.21"/>
<circle cx="517.9" cy="401.6" r="5.21"/>
<circle cx="504.5" cy="410.8" r="5.21"/>
<circle cx="527.7" cy="411.4" r="5.21"/>
<circle cx="512.7" cy="420.9" r="5.21"/>
<circle cx="521.7" cy="423.9" r="5.21"/>
<circle cx="503.2" cy="427.2" r="5.21"/>
<circle cx="527.2" cy="431.1" r="5.21"/>
<circle cx="505.1" cy="445.2" r="5.21"/>
<circle cx="518.7" cy="456.1" r="5.21"/>
<circle cx="484.7" cy="457" r="5.21"/>
<circle cx="547.7" cy="458.6" r="5.21"/>
<circle cx="511.8" cy="462.4" r="5.21"/>
<circle cx="491.4" cy="465.6" r="5.21"/>
<circle cx="531.8" cy="464.8" r="5.21"/>
<circle cx="501.2" cy="468.8" r="5.21"/>
<circle cx="542.8" cy="468.1" r="5.21"/>
<circle cx="522.3" cy="470.6" r="5.21"/>
<circle cx="478.3" cy="471.4" r="5.21"/>
<circle cx="550.3" cy="472.2" r="5.21"/>
<circle cx="505.5" cy="475" r="5.21"/>
<circle cx="479.9" cy="486.8" r="5.21"/>
<circle cx="492.5" cy="488.1" r="5.21"/>
<circle cx="529.4" cy="486.4" r="5.21"/>
<circle cx="542" cy="486.8" r="5.21"/>
<circle cx="467.6" cy="490" r="5.21"/>
<circle cx="517.4" cy="489.4" r="5.21"/>
<circle cx="561.8" cy="491.8" r="5.21"/>
<circle cx="512.2" cy="493.3" r="5.21"/>
<circle cx="488.4" cy="495.4" r="5.21"/>
<circle cx="536.4" cy="495.1" r="5.21"/>
<circle cx="547.9" cy="497.9" r="5.21"/>
<circle cx="501" cy="500.4" r="5.21"/>
<circle cx="523.6" cy="504" r="5.21"/>
<circle cx="480.6" cy="504.9" r="5.21"/>
<circle cx="550.6" cy="505.3" r="5.21"/>
<circle cx="507.6" cy="506.1" r="5.21"/>
<circle cx="527.7" cy="509.7" r="5.21"/>
<circle cx="489.7" cy="512.1" r="5.21"/>
<circle cx="534.8" cy="516.2" r="5.21"/>
<circle cx="503.5" cy="525.2" r="5.21"/>
<circle cx="517.1" cy="526.2" r="5.21"/>
<circle cx="493.3" cy="533.1" r="5.21"/>
<circle cx="487.2" cy="569.3" r="5.21"/>
<circle cx="491.6" cy="569.3" r="5.21"/>
<circle cx="496" cy="569.3" r="5.21"/>
<circle cx="500.4" cy="569.3" r="5.21"/>
<circle cx="504.8" cy="569.3" r="5.21"/>
<circle cx="509.2" cy="569.3" r="5.21"/>
<circle cx="513.6" cy="569.3" r="5.21"/>
<circle cx="518" cy="569.3" r="5.21"/>
<circle cx="522.4" cy="569.3" r="5.21"/>
<circle cx="526.8" cy="569.3" r="5.21"/>
<circle cx="531.2" cy="569.3" r="5.21"/>
<circle cx="535.6" cy="569.3" r="5.21"/>
<circle cx="540" cy="569.3" r="5.21"/>
<circle cx="544.4" cy="569.3" r="5.21"/>
<circle cx="590.4" cy="568.9" r="5.21"/>
<circle cx="591.7" cy="568.9" r="5.21"/>
<circle cx="593.1" cy="568.9" r="5.21"/>
<circle cx="594.4" cy="568.9" r="5.21"/>
<circle cx="595.7" cy="568.9" r="5.21"/>
<circle cx="597" cy="568.9" r="5.21"/>
<circle cx="598.3" cy="568.9" r="5.21"/>
<circle cx="599.7" cy="568.9" r="5.21"/>
<circle cx="601" cy="568.9" r="5.21"/>
<circle cx="602.3" cy="568.9" r="5.21"/>
<circle cx="603.6" cy="568.9" r="5.21"/>
<circle cx="604.9" cy="568.9" r="5.21"/>
<circle cx="606.3" cy="568.9" r="5.21"/>
<circle cx="607.6" cy="568.9" r="5.21"/>
<circle cx="608.9" cy="568.9" r="5.21"/>
<circle cx="610.2" cy="568.9" r="5.21"/>
<circle cx="611.5" cy="568.9" r="5.21"/>
<circle cx="612.8" cy="568.9" r="5.21"/>
<circle cx="614.2" cy="568.9" r="5.21"/>
<circle cx="615.5" cy="568.9" r="5.21"/>
<circle cx="616.8" cy="568.9" r="5.21"/>
<circle cx="618.1" cy="568.9" r="5.21"/>
<circle cx="619.4" cy="568.9" r="5.21"/>
<circle cx="620.8" cy="568.9" r="5.21"/>
<circle cx="622.1" cy="568.9" r="5.21"/>
<circle cx="623.4" cy="568.9" r="5.21"/>
<circle cx="624.7" cy="568.9" r="5.21"/>
<circle cx="626" cy="568.9" r="5.21"/>
<circle cx="627.4" cy="568.9" r="5.21"/>
<circle cx="628.7" cy="568.9" r="5.21"/>
<circle cx="630" cy="568.9" r="5.21"/>
<circle cx="631.3" cy="568.9" r="5.21"/>
<circle cx="632.6" cy="568.9" r="5.21"/>
<circle cx="633.9" cy="568.9" r="5.21"/>
<circle cx="635.3" cy="568.9" r="5.21"/>
<circle cx="636.6" cy="568.9" r="5.21"/>
<circle cx="637.9" cy="568.9" r="5.21"/>
<circle cx="639.2" cy="568.9" r="5.21"/>
<circle cx="640.5" cy="568.9" r="5.21"/>
<circle cx="641.9" cy="568.9" r="5.21"/>
<circle cx="643.2" cy="568.9" r="5.21"/>
<circle cx="644.5" cy="568.9" r="5.21"/>
<circle cx="645.8" cy="568.9" r="5.21"/>
<circle cx="647.1" cy="568.9" r="5.21"/>
<circle cx="648.5" cy="568.9" r="5.21"/>
<circle cx="649.8" cy="568.9" r="5.21"/>
<circle cx="651.1" cy="568.9" r="5.21"/>
<circle cx="652.4" cy="568.9" r="5.21"/>
<circle cx="653.7" cy="568.9" r="5.21"/>
<circle cx="655.1" cy="568.9" r="5.21"/>
<circle cx="656.4" cy="568.9" r="5.21"/>
<circle cx="657.7" cy="568.9" r="5.21"/>
<circle cx="659" cy="568.9" r="5.21"/>
<circle cx="660.3" cy="568.9" r="5.21"/>
<circle cx="661.6" cy="568.9" r="5.21"/>
<circle cx="663" cy="568.9" r="5.21"/>
<circle cx="664.3" cy="568.9" r="5.21"/>
<circle cx="665.6" cy="568.9" r="5.21"/>
<circle cx="666.9" cy="568.9" r="5.21"/>
<circle cx="668.2" cy="568.9" r="5.21"/>
<circle cx="669.6" cy="568.9" r="5.21"/>
<circle cx="670.9" cy="568.9" r="5.21"/>
<circle cx="672.2" cy="568.9" r="5.21"/>
<circle cx="673.5" cy="568.9" r="5.21"/>
<circle cx="674.8" cy="568.9" r="5.21"/>
<circle cx="676.2" cy="568.9" r="5.21"/>
<circle cx="677.5" cy="568.9" r="5.21"/>
<circle cx="678.8" cy="568.9" r="5.21"/>
<circle cx="680.1" cy="568.9" r="5.21"/>
<circle cx="681.4" cy="568.9" r="5.21"/>
<circle cx="682.7" cy="568.9" r="5.21"/>
<circle cx="684.1" cy="568.9" r="5.21"/>
<circle cx="685.4" cy="568.9" r="5.21"/>
<circle cx="686.7" cy="568.9" r="5.21"/>
<circle cx="688" cy="568.9" r="5.21"/>
<circle cx="639.6" cy="418.9" r="5.21"/>
<circle cx="637.9" cy="420.6" r="5.21"/>
<circle cx="639.9" cy="421.4" r="5.21"/>
<circle cx="637.1" cy="423.9" r="5.21"/>
<circle cx="640.2" cy="424.9" r="5.21"/>
<circle cx="638.5" cy="425.4" r="5.21"/>
<circle cx="641.4" cy="426.9" r="5.21"/>
<circle cx="636.1" cy="426.9" r="5.21"/>
<circle cx="639.6" cy="427.6" r="5.21"/>
<circle cx="637.5" cy="427.7" r="5.21"/>
<circle cx="641.2" cy="428.2" r="5.21"/>
<circle cx="637.5" cy="428.3" r="5.21"/>
<circle cx="640.4" cy="429.7" r="5.21"/>
<circle cx="639.6" cy="430.6" r="5.21"/>
<circle cx="642.3" cy="431.4" r="5.21"/>
<circle cx="636.3" cy="432.9" r="5.21"/>
<circle cx="639.5" cy="433.4" r="5.21"/>
<circle cx="637.6" cy="434.5" r="5.21"/>
<circle cx="641.7" cy="438.7" r="5.21"/>
<circle cx="637" cy="441" r="5.21"/>
<circle cx="639.9" cy="442.8" r="5.21"/>
<circle cx="638.9" cy="446.4" r="5.21"/>
<circle cx="642.7" cy="446.9" r="5.21"/>
<circle cx="636.3" cy="449.2" r="5.21"/>
<circle cx="640.2" cy="449.8" r="5.21"/>
<circle cx="637.4" cy="450.2" r="5.21"/>
<circle cx="641.6" cy="450.7" r="5.21"/>
<circle cx="637.6" cy="451.4" r="5.21"/>
<circle cx="641.3" cy="453.5" r="5.21"/>
<circle cx="638.3" cy="454.3" r="5.21"/>
<circle cx="644.1" cy="454.6" r="5.21"/>
<circle cx="633" cy="456.6" r="5.21"/>
<circle cx="638.7" cy="457.9" r="5.21"/>
<circle cx="634.9" cy="458.1" r="5.21"/>
<circle cx="643" cy="459.4" r="5.21"/>
<circle cx="632.8" cy="460.4" r="5.21"/>
<circle cx="641.9" cy="460.9" r="5.21"/>
<circle cx="636.8" cy="462.3" r="5.21"/>
<circle cx="647.6" cy="462.3" r="5.21"/>
<circle cx="630.1" cy="463.1" r="5.21"/>
<circle cx="640.1" cy="463.4" r="5.21"/>
<circle cx="635.2" cy="463.6" r="5.21"/>
<circle cx="646.7" cy="464.7" r="5.21"/>
<circle cx="631.4" cy="465.6" r="5.21"/>
<circle cx="644.2" cy="466.6" r="5.21"/>
<circle cx="638" cy="466.7" r="5.21"/>
<circle cx="651" cy="467" r="5.21"/>
<circle cx="626.4" cy="467.8" r="5.21"/>
<circle cx="640.3" cy="468" r="5.21"/>
<circle cx="634.4" cy="468.5" r="5.21"/>
<circle cx="647.1" cy="469.2" r="5.21"/>
<circle cx="629.3" cy="469.4" r="5.21"/>
<circle cx="644.2" cy="469.5" r="5.21"/>
<circle cx="637.2" cy="469.7" r="5.21"/>
<circle cx="651.7" cy="470.5" r="5.21"/>
<circle cx="627.4" cy="470.6" r="5.21"/>
<circle cx="642.8" cy="471.1" r="5.21"/>
<circle cx="634.7" cy="472.3" r="5.21"/>
<circle cx="649.7" cy="472.8" r="5.21"/>
<circle cx="630.9" cy="472.9" r="5.21"/>
<circle cx="646.4" cy="473.4" r="5.21"/>
<circle cx="639" cy="473.5" r="5.21"/>
<circle cx="654.5" cy="473.9" r="5.21"/>
<circle cx="623.7" cy="474.8" r="5.21"/>
<circle cx="639.8" cy="475.6" r="5.21"/>
<circle cx="631.3" cy="477.6" r="5.21"/>
<circle cx="648" cy="478" r="5.21"/>
<circle cx="626.6" cy="478.1" r="5.21"/>
<circle cx="643" cy="478.2" r="5.21"/>
<circle cx="635.7" cy="478.4" r="5.21"/>
<circle cx="651.4" cy="478.8" r="5.21"/>
<circle cx="624.9" cy="478.9" r="5.21"/>
<circle cx="641.5" cy="480" r="5.21"/>
<circle cx="633" cy="480" r="5.21"/>
<circle cx="649.8" cy="480.4" r="5.21"/>
<circle cx="629.4" cy="481.5" r="5.21"/>
<circle cx="644.9" cy="481.7" r="5.21"/>
<circle cx="637.7" cy="481.7" r="5.21"/>
<circle cx="655.4" cy="482" r="5.21"/>
<circle cx="623.5" cy="482" r="5.21"/>
<circle cx="640.6" cy="482.3" r="5.21"/>
<circle cx="632.2" cy="482.8" r="5.21"/>
<circle cx="649.9" cy="482.8" r="5.21"/>
<circle cx="627.1" cy="483.2" r="5.21"/>
<circle cx="645" cy="484.1" r="5.21"/>
<circle cx="636.2" cy="484.2" r="5.21"/>
<circle cx="653.9" cy="484.4" r="5.21"/>
<circle cx="625.4" cy="484.4" r="5.21"/>
<circle cx="643" cy="484.5" r="5.21"/>
<circle cx="633.9" cy="484.7" r="5.21"/>
<circle cx="651.5" cy="484.8" r="5.21"/>
<circle cx="629.4" cy="485.1" r="5.21"/>
<circle cx="646.9" cy="485.1" r="5.21"/>
<circle cx="638.3" cy="486.5" r="5.21"/>
<circle cx="656" cy="486.7" r="5.21"/>
<circle cx="621.8" cy="487.3" r="5.21"/>
<circle cx="640.7" cy="487.5" r="5.21"/>
<circle cx="631.1" cy="488" r="5.21"/>
<circle cx="648.4" cy="488.1" r="5.21"/>
<circle cx="627.1" cy="488.2" r="5.21"/>
<circle cx="644.2" cy="488.8" r="5.21"/>
<circle cx="635.8" cy="489.2" r="5.21"/>
<circle cx="653.5" cy="489.3" r="5.21"/>
<circle cx="624.4" cy="489.8" r="5.21"/>
<circle cx="642.4" cy="489.8" r="5.21"/>
<circle cx="633.1" cy="489.9" r="5.21"/>
<circle cx="651.4" cy="490" r="5.21"/>
<circle cx="629.6" cy="490.4" r="5.21"/>
<circle cx="646" cy="490.5" r="5.21"/>
<circle cx="637.8" cy="490.6" r="5.21"/>
<circle cx="656.1" cy="490.7" r="5.21"/>
<circle cx="622.6" cy="490.9" r="5.21"/>
<circle cx="640.7" cy="492.3" r="5.21"/>
<circle cx="632.9" cy="492.3" r="5.21"/>
<circle cx="650.2" cy="492.4" r="5.21"/>
<circle cx="628.3" cy="493.2" r="5.21"/>
<circle cx="646" cy="493.5" r="5.21"/>
<circle cx="636.7" cy="493.8" r="5.21"/>
<circle cx="655.2" cy="494.1" r="5.21"/>
<circle cx="625.4" cy="494.5" r="5.21"/>
<circle cx="644" cy="494.7" r="5.21"/>
<circle cx="634.5" cy="495" r="5.21"/>
<circle cx="652.9" cy="495.2" r="5.21"/>
<circle cx="629.8" cy="495.3" r="5.21"/>
<circle cx="648.7" cy="495.4" r="5.21"/>
<circle cx="639.3" cy="495.5" r="5.21"/>
<circle cx="657" cy="495.6" r="5.21"/>
<circle cx="620.6" cy="495.8" r="5.21"/>
<circle cx="639.5" cy="495.8" r="5.21"/>
<circle cx="629.9" cy="496.1" r="5.21"/>
<circle cx="648.5" cy="496.3" r="5.21"/>
<circle cx="625.1" cy="496.6" r="5.21"/>
<circle cx="643.9" cy="496.8" r="5.21"/>
<circle cx="634.9" cy="497.5" r="5.21"/>
<circle cx="653.7" cy="498.3" r="5.21"/>
<circle cx="623.1" cy="498.3" r="5.21"/>
<circle cx="642.5" cy="498.4" r="5.21"/>
<circle cx="632.4" cy="498.5" r="5.21"/>
<circle cx="652.3" cy="498.5" r="5.21"/>
<circle cx="628.1" cy="498.5" r="5.21"/>
<circle cx="646.5" cy="498.8" r="5.21"/>
<circle cx="636.8" cy="498.9" r="5.21"/>
<circle cx="654.5" cy="499.2" r="5.21"/>
<circle cx="621.9" cy="499.3" r="5.21"/>
<circle cx="640.6" cy="499.4" r="5.21"/>
<circle cx="632" cy="499.6" r="5.21"/>
<circle cx="649.3" cy="499.8" r="5.21"/>
<circle cx="627.3" cy="499.8" r="5.21"/>
<circle cx="645.1" cy="499.9" r="5.21"/>
<circle cx="636.2" cy="499.9" r="5.21"/>
<circle cx="653.5" cy="499.9" r="5.21"/>
<circle cx="624.3" cy="500.3" r="5.21"/>
<circle cx="642.7" cy="500.5" r="5.21"/>
<circle cx="633.8" cy="500.9" r="5.21"/>
<circle cx="652.2" cy="500.9" r="5.21"/>
<circle cx="628.5" cy="502" r="5.21"/>
<circle cx="647.9" cy="502" r="5.21"/>
<circle cx="638.5" cy="502.1" r="5.21"/>
<circle cx="657" cy="502.1" r="5.21"/>
<circle cx="621.8" cy="502.6" r="5.21"/>
<circle cx="640.4" cy="502.6" r="5.21"/>
<circle cx="630.7" cy="502.9" r="5.21"/>
<circle cx="648.7" cy="503.2" r="5.21"/>
<circle cx="625.5" cy="503.6" r="5.21"/>
<circle cx="645.1" cy="503.7" r="5.21"/>
<circle cx="635.6" cy="503.8" r="5.21"/>
<circle cx="653.9" cy="504.4" r="5.21"/>
<circle cx="623.5" cy="504.4" r="5.21"/>
<circle cx="642.3" cy="504.5" r="5.21"/>
<circle cx="633" cy="504.6" r="5.21"/>
<circle cx="651.4" cy="504.7" r="5.21"/>
<circle cx="628.1" cy="505.1" r="5.21"/>
<circle cx="647.8" cy="505.8" r="5.21"/>
<circle cx="637.7" cy="505.9" r="5.21"/>
<circle cx="655.9" cy="505.9" r="5.21"/>
<circle cx="622.1" cy="506" r="5.21"/>
<circle cx="640.8" cy="506.1" r="5.21"/>
<circle cx="632.1" cy="506.2" r="5.21"/>
<circle cx="650.7" cy="506.3" r="5.21"/>
<circle cx="627.1" cy="506.4" r="5.21"/>
<circle cx="645.7" cy="506.6" r="5.21"/>
<circle cx="636.4" cy="507.3" r="5.21"/>
<circle cx="654.5" cy="507.4" r="5.21"/>
<circle cx="625.5" cy="507.5" r="5.21"/>
<circle cx="643.6" cy="507.7" r="5.21"/>
<circle cx="635.2" cy="507.8" r="5.21"/>
<circle cx="652.3" cy="508.1" r="5.21"/>
<circle cx="629.5" cy="508.2" r="5.21"/>
<circle cx="648.4" cy="508.6" r="5.21"/>
<circle cx="638.7" cy="508.8" r="5.21"/>
<circle cx="656.7" cy="509.1" r="5.21"/>
<circle cx="620.9" cy="509.5" r="5.21"/>
<circle cx="639.7" cy="509.6" r="5.21"/>
<circle cx="630.6" cy="509.7" r="5.21"/>
<circle cx="648.8" cy="509.8" r="5.21"/>
<circle cx="626.3" cy="509.9" r="5.21"/>
<circle cx="644.6" cy="510.1" r="5.21"/>
<circle cx="635.2" cy="510.2" r="5.21"/>
<circle cx="653.4" cy="510.7" r="5.21"/>
<circle cx="623.5" cy="510.7" r="5.21"/>
<circle cx="642.2" cy="510.8" r="5.21"/>
<circle cx="633.1" cy="511.1" r="5.21"/>
<circle cx="651.1" cy="511.1" r="5.21"/>
<circle cx="628.4" cy="511.6" r="5.21"/>
<circle cx="646.4" cy="511.7" r="5.21"/>
<circle cx="636.8" cy="512" r="5.21"/>
<circle cx="655.3" cy="512" r="5.21"/>
<circle cx="622.8" cy="512" r="5.21"/>
<circle cx="641" cy="512.1" r="5.21"/>
<circle cx="632.3" cy="512.3" r="5.21"/>
<circle cx="650" cy="512.8" r="5.21"/>
<circle cx="627.4" cy="513.1" r="5.21"/>
<circle cx="645.9" cy="513.2" r="5.21"/>
<circle cx="636.6" cy="513.9" r="5.21"/>
<circle cx="654.2" cy="513.9" r="5.21"/>
<circle cx="624.8" cy="514.3" r="5.21"/>
<circle cx="643.1" cy="514.5" r="5.21"/>
<circle cx="633.6" cy="514.6" r="5.21"/>
<circle cx="652.4" cy="514.6" r="5.21"/>
<circle cx="629.8" cy="514.8" r="5.21"/>
<circle cx="647.4" cy="515" r="5.21"/>
<circle cx="639.3" cy="515" r="5.21"/>
<circle cx="656.6" cy="515.4" r="5.21"/>
<circle cx="622" cy="516" r="5.21"/>
<circle cx="640.1" cy="517" r="5.21"/>
<circle cx="630.9" cy="517" r="5.21"/>
<circle cx="649.4" cy="517.2" r="5.21"/>
<circle cx="626.7" cy="517.2" r="5.21"/>
<circle cx="645.4" cy="517.2" r="5.21"/>
<circle cx="635.9" cy="517.2" r="5.21"/>
<circle cx="654" cy="517.7" r="5.21"/>
<circle cx="624.4" cy="518.1" r="5.21"/>
<circle cx="641.9" cy="518.7" r="5.21"/>
<circle cx="633.4" cy="518.7" r="5.21"/>
<circle cx="651.1" cy="519" r="5.21"/>
<circle cx="629.4" cy="519" r="5.21"/>
<circle cx="646.9" cy="519.6" r="5.21"/>
<circle cx="638.6" cy="519.7" r="5.21"/>
<circle cx="656.1" cy="519.7" r="5.21"/>
<circle cx="623.8" cy="519.8" r="5.21"/>
<circle cx="641.4" cy="520.1" r="5.21"/>
<circle cx="632.5" cy="520.2" r="5.21"/>
<circle cx="650.5" cy="520.6" r="5.21"/>
<circle cx="628.4" cy="520.8" r="5.21"/>
<circle cx="645.5" cy="521" r="5.21"/>
<circle cx="637.1" cy="521.2" r="5.21"/>
<circle cx="655.6" cy="521.2" r="5.21"/>
<circle cx="625.8" cy="521.3" r="5.21"/>
<circle cx="643.4" cy="521.5" r="5.21"/>
<circle cx="634.4" cy="521.7" r="5.21"/>
<circle cx="651.7" cy="521.9" r="5.21"/>
<circle cx="630.8" cy="522.2" r="5.21"/>
<circle cx="647.9" cy="522.3" r="5.21"/>
<circle cx="639.2" cy="522.5" r="5.21"/>
<circle cx="657.3" cy="523.1" r="5.21"/>
<circle cx="622.8" cy="523.1" r="5.21"/>
<circle cx="638.9" cy="523.2" r="5.21"/>
<circle cx="631" cy="523.3" r="5.21"/>
<circle cx="648.3" cy="523.5" r="5.21"/>
<circle cx="626.4" cy="523.5" r="5.21"/>
<circle cx="643.8" cy="524" r="5.21"/>
<circle cx="634.9" cy="524.1" r="5.21"/>
<circle cx="652.9" cy="524.3" r="5.21"/>
<circle cx="624.4" cy="524.5" r="5.21"/>
<circle cx="641.6" cy="525.8" r="5.21"/>
<circle cx="633.4" cy="526.3" r="5.21"/>
<circle cx="650.3" cy="526.6" r="5.21"/>
<circle cx="628.8" cy="526.7" r="5.21"/>
<circle cx="645.8" cy="526.7" r="5.21"/>
<circle cx="637.9" cy="526.9" r="5.21"/>
<circle cx="654.3" cy="527" r="5.21"/>
<circle cx="623.4" cy="527" r="5.21"/>
<circle cx="640" cy="527.2" r="5.21"/>
<circle cx="631.8" cy="527.5" r="5.21"/>
<circle cx="648.3" cy="528" r="5.21"/>
<circle cx="627.8" cy="528.1" r="5.21"/>
<circle cx="644.6" cy="528.2" r="5.21"/>
<circle cx="635.3" cy="528.3" r="5.21"/>
<circle cx="652.9" cy="528.3" r="5.21"/>
<circle cx="625.9" cy="528.4" r="5.21"/>
<circle cx="642.5" cy="528.8" r="5.21"/>
<circle cx="633.7" cy="528.9" r="5.21"/>
<circle cx="651.2" cy="529.1" r="5.21"/>
<circle cx="629.7" cy="529.3" r="5.21"/>
<circle cx="646" cy="529.6" r="5.21"/>
<circle cx="637.8" cy="530.2" r="5.21"/>
<circle cx="654.7" cy="530.2" r="5.21"/>
<circle cx="623.8" cy="530.5" r="5.21"/>
<circle cx="640.3" cy="530.6" r="5.21"/>
<circle cx="631.7" cy="530.6" r="5.21"/>
<circle cx="647.5" cy="530.7" r="5.21"/>
<circle cx="627.3" cy="530.7" r="5.21"/>
<circle cx="643.5" cy="530.8" r="5.21"/>
<circle cx="635.6" cy="530.9" r="5.21"/>
<circle cx="651.2" cy="531.7" r="5.21"/>
<circle cx="625.9" cy="532.8" r="5.21"/>
<circle cx="642" cy="532.9" r="5.21"/>
<circle cx="633.8" cy="533" r="5.21"/>
<circle cx="649.9" cy="533" r="5.21"/>
<circle cx="629.5" cy="533" r="5.21"/>
<circle cx="645.1" cy="533.5" r="5.21"/>
<circle cx="637.6" cy="535.5" r="5.21"/>
<circle cx="653.5" cy="535.9" r="5.21"/>
<circle cx="626" cy="536.4" r="5.21"/>
<circle cx="640.5" cy="536.7" r="5.21"/>
<circle cx="633.8" cy="537.6" r="5.21"/>
<circle cx="647.6" cy="539.2" r="5.21"/>
<circle cx="630.6" cy="539.6" r="5.21"/>
<circle cx="644.3" cy="540.1" r="5.21"/>
<circle cx="636.9" cy="540.9" r="5.21"/>
<circle cx="651.2" cy="541.1" r="5.21"/>
<circle cx="628.3" cy="541.2" r="5.21"/>
<circle cx="641.9" cy="541.7" r="5.21"/>
<circle cx="634.9" cy="541.7" r="5.21"/>
<circle cx="649.1" cy="542" r="5.21"/>
<circle cx="632.1" cy="542.4" r="5.21"/>
<circle cx="645.5" cy="542.8" r="5.21"/>
<circle cx="638.7" cy="543.8" r="5.21"/>
<circle cx="652.3" cy="544.4" r="5.21"/>
<circle cx="626.7" cy="545.2" r="5.21"/>
<circle cx="639.2" cy="545.2" r="5.21"/>
<circle cx="633.7" cy="545.6" r="5.21"/>
<circle cx="646.3" cy="545.7" r="5.21"/>
<circle cx="630.3" cy="546" r="5.21"/>
<circle cx="641.8" cy="547" r="5.21"/>
<circle cx="636.2" cy="547" r="5.21"/>
<circle cx="648.1" cy="549.5" r="5.21"/>
<circle cx="630.2" cy="550.9" r="5.21"/>
<circle cx="641.3" cy="551.8" r="5.21"/>
<circle cx="635.1" cy="551.8" r="5.21"/>
<circle cx="617.7" cy="551.7" r="5.21"/>
<circle cx="660.3" cy="551.7" r="5.21"/>
<circle cx="635.3" cy="554.1" r="5.21"/>
<circle cx="640.8" cy="550.9" r="5.21"/>
<circle cx="629.1" cy="548.6" r="5.21"/>
<circle cx="649.4" cy="548.6" r="5.21"/>
<circle cx="639.2" cy="417.8" r="5.21"/>
<circle cx="639.2" cy="420.5" r="5.21"/>
<circle cx="725.6" cy="529.2" r="5.21"/>
<circle cx="773.8" cy="520.9" r="5.21"/>
<circle cx="786.9" cy="532.7" r="5.21"/>
<circle cx="744.8" cy="568.9" r="5.21"/>
<circle cx="762.7" cy="568.9" r="5.21"/>
<circle cx="886.2" cy="431.1" r="5.21"/>
<circle cx="1003.5" cy="460.9" r="5.21"/>
<circle cx="1005.2" cy="488.9" r="5.21"/>
<circle cx="1026.7" cy="485.4" r="5.21"/>
<circle cx="989.9" cy="499.9" r="5.21"/>
<circle cx="1018.2" cy="496.7" r="5.21"/>
<circle cx="1026.3" cy="502.5" r="5.21"/>
<circle cx="996.1" cy="510.8" r="5.21"/>
<circle cx="1011.8" cy="516" r="5.21"/>
<circle cx="978.3" cy="529" r="5.21"/>
<circle cx="1005.4" cy="530.3" r="5.21"/>
<circle cx="1038.7" cy="529.5" r="5.21"/>
<circle cx="986.4" cy="543.1" r="5.21"/>
<circle cx="1023.2" cy="540.6" r="5.21"/>
<circle cx="1033.2" cy="543.5" r="5.21"/>
<circle cx="966.7" cy="568.6" r="5.21"/>
<circle cx="973.3" cy="568.6" r="5.21"/>
<circle cx="985.5" cy="568.6" r="5.21"/>
<circle cx="991.7" cy="568.6" r="5.21"/>
<circle cx="997.7" cy="568.6" r="5.21"/>
<circle cx="1009.3" cy="568.6" r="5.21"/>
<circle cx="1015.8" cy="568.6" r="5.21"/>
<circle cx="1021.8" cy="568.6" r="5.21"/>
<circle cx="1033.8" cy="568.6" r="5.21"/>
<circle cx="1046" cy="568.6" r="5.21"/>
<circle cx="1125.7" cy="395.9" r="5.21"/>
<circle cx="1117.2" cy="437.3" r="5.21"/>
<circle cx="1152.4" cy="434.7" r="5.21"/>
<circle cx="1135.8" cy="448.3" r="5.21"/>
<circle cx="1089.9" cy="453.5" r="5.21"/>
<circle cx="1174.7" cy="456.8" r="5.21"/>
<circle cx="1126.7" cy="468.8" r="5.21"/>
<circle cx="1151.5" cy="470" r="5.21"/>
<circle cx="1102.7" cy="475" r="5.21"/>
<circle cx="1163.4" cy="475.2" r="5.21"/>
<circle cx="1115.9" cy="484.3" r="5.21"/>
<circle cx="1102.1" cy="507.7" r="5.21"/>
<circle cx="1137.5" cy="506.3" r="5.21"/>
<circle cx="1157.6" cy="515.2" r="5.21"/>
<circle cx="1125.7" cy="534.2" r="5.21"/>
<circle cx="1109.9" cy="568.6" r="5.21"/>
<circle cx="1118" cy="568.6" r="5.21"/>
<circle cx="1132.9" cy="568.6" r="5.21"/>
<circle cx="1140.6" cy="568.6" r="5.21"/>
<circle cx="1148.6" cy="568.6" r="5.21"/>
<circle cx="1231.9" cy="568.8" r="5.21"/>
<circle cx="1256.5" cy="568.8" r="5.21"/>
</g>
<rect x="90.3" y="728.2" width="1240.4" height="34.5" fill="#cccccc"/>
<text transform="translate(90.3,707.4) scale(1.0,1.0)" font-size="30.48" font-weight="bold">Muraro</text>
<text transform="translate(710.5,753.7) scale(1.02,1.025)" font-size="22.86" text-anchor="middle">ENSG00000129965</text>
<g stroke="#000" stroke-width="2.95" stroke-linecap="square" fill="none">
<path d="M90.3,762.7 V1263.4 H1330.7"/>
</g>
<g stroke="#000" stroke-width="2.95" stroke-linecap="butt" fill="none">
<path d="M90.3,1240.7 h-6.7M90.3,1102.5 h-6.7M90.3,964.4 h-6.7M90.3,826.2 h-6.7M156.7,1263.4 v6.7M267.5,1263.4 v6.7M378.2,1263.4 v6.7M489,1263.4 v6.7M599.7,1263.4 v6.7M710.5,1263.4 v6.7M821.2,1263.4 v6.7M932,1263.4 v6.7M1042.7,1263.4 v6.7M1153.5,1263.4 v6.7M1264.2,1263.4 v6.7"/>
</g>
<text transform="translate(77.5,1249) scale(1.0,1.05)" font-size="22.86" text-anchor="end">0.0</text>
<text transform="translate(77.5,1110.8) scale(1.0,1.05)" font-size="22.86" text-anchor="end">0.5</text>
<text transform="translate(77.5,972.7) scale(1.0,1.05)" font-size="22.86" text-anchor="end">1.0</text>
<text transform="translate(77.5,834.5) scale(1.0,1.05)" font-size="22.86" text-anchor="end">1.5</text>
<text transform="translate(156.7,1292.8) scale(1.0,1.0)" font-size="22.86" text-anchor="middle">acinar</text>
<text transform="translate(267.5,1292.8) scale(1.0,1.0)" font-size="22.86" text-anchor="middle">alpha</text>
<text transform="translate(378.2,1292.8) scale(1.0,1.0)" font-size="22.86" text-anchor="middle">beta</text>
<text transform="translate(489,1292.8) scale(1.0,1.0)" font-size="22.86" text-anchor="middle">delta</text>
<text transform="translate(599.7,1292.8) scale(1.0,1.0)" font-size="22.86" text-anchor="middle">duct</text>
<text transform="translate(710.5,1292.8) scale(1.0,1.0)" font-size="22.86" text-anchor="middle">endothelial</text>
<text transform="translate(821.2,1292.8) scale(1.0,1.0)" font-size="22.86" text-anchor="middle">epsilon</text>
<text transform="translate(932,1292.8) scale(1.0,1.0)" font-size="22.86" text-anchor="middle">mesenchymal</text>
<text transform="translate(1042.7,1292.8) scale(1.0,1.0)" font-size="22.86" text-anchor="middle">pp</text>
<text transform="translate(1153.5,1292.8) scale(1.0,1.0)" font-size="22.86" text-anchor="middle">unclear</text>
<text transform="translate(1264.2,1292.8) scale(1.0,1.0)" font-size="22.86" text-anchor="middle">NA</text>
<text transform="translate(710.5,1324.8) scale(1.01,1.0)" font-size="26.67" text-anchor="middle">label</text>
<text transform="translate(32.5,1013.1) rotate(-90) scale(1.0,1.0)" font-size="26.67" text-anchor="middle">Expression (logcounts)</text>
<g fill="#e5e5e5" fill-opacity="0.2" stroke="#999999" stroke-width="2.7" stroke-linejoin="round">
<path d="M378,785.2 378,788.1 378,790.9 378,793.8 378,796.7 378,799.5 378,802.4 378,805.3 378,808.1 378,811 378,813.8 378,816.7 378,819.6 378,822.4 378,825.3 378,828.2 378,831 378,833.9 378,836.8 378,839.6 378,842.5 378,845.4 378,848.2 378,851.1 378,854 378,856.8 378,859.7 378,862.5 378,865.4 378,868.3 378,871.1 378,874 378,876.9 378,879.7 378,882.6 378,885.5 378,888.3 378,891.2 378,894.1 378,896.9 378,899.8 378,902.7 378,905.5 378,908.4 378,911.3 378,914.1 378,917 378,919.8 378,922.7 378,925.6 378,928.4 378,931.3 378,934.2 378,937 378,939.9 378,942.8 378,945.6 378,948.5 378,951.4 378,954.2 378,957.1 378,960 378,962.8 378,965.7 378,968.5 378,971.4 378,974.3 377.9,977.1 377.9,980 377.9,982.9 377.9,985.7 377.9,988.6 377.9,991.5 377.9,994.3 377.9,997.2 377.9,1000.1 377.9,1002.9 377.9,1005.8 377.9,1008.7 377.9,1011.5 377.9,1014.4 377.9,1017.2 377.9,1020.1 377.9,1023 377.9,1025.8 377.9,1028.7 377.9,1031.6 377.9,1034.4 377.9,1037.3 377.9,1040.2 377.9,1043 377.9,1045.9 377.9,1048.8 377.9,1051.6 377.9,1054.5 377.9,1057.4 377.9,1060.2 377.9,1063.1 377.9,1065.9 377.9,1068.8 377.9,1071.7 377.9,1074.5 377.9,1077.4 377.9,1080.3 377.9,1083.1 377.9,1086 377.9,1088.9 377.9,1091.7 377.9,1094.6 377.9,1097.5 377.9,1100.3 377.9,1103.2 377.9,1106.1 377.9,1108.9 377.9,1111.8 377.9,1114.6 377.9,1117.5 377.9,1120.4 377.9,1123.2 377.9,1126.1 377.9,1129 377.9,1131.8 377.9,1134.7 377.9,1137.6 377.9,1140.4 377.9,1143.3 377.9,1146.2 377.9,1149 377.9,1151.9 377.9,1154.8 377.9,1157.6 377.9,1160.5 377.9,1163.4 377.9,1166.2 377.8,1169.1 377.8,1171.9 377.8,1174.8 377.8,1177.7 377.7,1180.5 377.7,1183.4 377.7,1186.3 377.5,1189.1 377.2,1192 376.7,1194.9 376.1,1197.7 375.2,1200.6 373.9,1203.5 372.2,1206.3 369.9,1209.2 366.7,1212.1 363.2,1214.9 359.1,1217.8 354.8,1220.6 350.1,1223.5 345.6,1226.4 341.7,1229.2 338.1,1232.1 335.8,1235 334.5,1237.8 333.9,1240.7 422.5,1240.7 422,1237.8 420.7,1235 418.4,1232.1 414.8,1229.2 410.9,1226.4 406.4,1223.5 401.7,1220.6 397.4,1217.8 393.3,1214.9 389.8,1212.1 386.6,1209.2 384.3,1206.3 382.5,1203.5 381.3,1200.6 380.4,1197.7 379.8,1194.9 379.3,1192 379,1189.1 378.8,1186.3 378.8,1183.4 378.8,1180.5 378.7,1177.7 378.7,1174.8 378.7,1171.9 378.7,1169.1 378.6,1166.2 378.6,1163.4 378.6,1160.5 378.6,1157.6 378.6,1154.8 378.6,1151.9 378.6,1149 378.6,1146.2 378.6,1143.3 378.6,1140.4 378.6,1137.6 378.6,1134.7 378.6,1131.8 378.6,1129 378.6,1126.1 378.6,1123.2 378.6,1120.4 378.6,1117.5 378.6,1114.6 378.6,1111.8 378.6,1108.9 378.6,1106.1 378.6,1103.2 378.6,1100.3 378.6,1097.5 378.6,1094.6 378.6,1091.7 378.6,1088.9 378.6,1086 378.6,1083.1 378.6,1080.3 378.6,1077.4 378.6,1074.5 378.6,1071.7 378.6,1068.8 378.6,1065.9 378.6,1063.1 378.6,1060.2 378.6,1057.4 378.6,1054.5 378.6,1051.6 378.6,1048.8 378.6,1045.9 378.6,1043 378.6,1040.2 378.6,1037.3 378.6,1034.4 378.6,1031.6 378.5,1028.7 378.5,1025.8 378.5,1023 378.5,1020.1 378.5,1017.2 378.5,1014.4 378.5,1011.5 378.5,1008.7 378.5,1005.8 378.5,1002.9 378.5,1000.1 378.5,997.2 378.5,994.3 378.5,991.5 378.5,988.6 378.5,985.7 378.5,982.9 378.5,980 378.5,977.1 378.5,974.3 378.5,971.4 378.5,968.5 378.5,965.7 378.5,962.8 378.5,960 378.5,957.1 378.5,954.2 378.5,951.4 378.5,948.5 378.5,945.6 378.5,942.8 378.5,939.9 378.5,937 378.5,934.2 378.5,931.3 378.5,928.4 378.5,925.6 378.5,922.7 378.5,919.8 378.5,917 378.5,914.1 378.5,911.3 378.5,908.4 378.5,905.5 378.5,902.7 378.5,899.8 378.5,896.9 378.5,894.1 378.5,891.2 378.5,888.3 378.5,885.5 378.5,882.6 378.5,879.7 378.5,876.9 378.5,874 378.5,871.1 378.5,868.3 378.5,865.4 378.5,862.5 378.5,859.7 378.5,856.8 378.5,854 378.5,851.1 378.5,848.2 378.5,845.4 378.5,842.5 378.5,839.6 378.5,836.8 378.5,833.9 378.5,831 378.5,828.2 378.5,825.3 378.5,822.4 378.5,819.6 378.5,816.7 378.5,813.8 378.5,811 378.5,808.1 378.5,805.3 378.5,802.4 378.5,799.5 378.5,796.7 378.5,793.8 378.5,790.9 378.5,788.1 378.5,785.2Z"/>
<path d="M488.7,821.3 488.7,823.9 488.7,826.6 488.7,829.2 488.7,831.9 488.7,834.5 488.7,837.1 488.7,839.8 488.7,842.4 488.7,845 488.7,847.7 488.7,850.3 488.7,853 488.7,855.6 488.7,858.2 488.7,860.9 488.7,863.5 488.7,866.1 488.7,868.8 488.7,871.4 488.7,874.1 488.7,876.7 488.7,879.3 488.7,882 488.7,884.6 488.7,887.2 488.7,889.9 488.7,892.5 488.7,895.2 488.7,897.8 488.7,900.4 488.7,903.1 488.7,905.7 488.7,908.3 488.7,911 488.7,913.6 488.7,916.3 488.7,918.9 488.7,921.5 488.7,924.2 488.7,926.8 488.7,929.4 488.7,932.1 488.7,934.7 488.7,937.4 488.7,940 488.7,942.6 488.7,945.3 488.7,947.9 488.7,950.5 488.7,953.2 488.7,955.8 488.7,958.5 488.7,961.1 488.7,963.7 488.7,966.4 488.7,969 488.7,971.7 488.7,974.3 488.7,976.9 488.7,979.6 488.7,982.2 488.7,984.8 488.7,987.5 488.7,990.1 488.7,992.8 488.7,995.4 488.7,998 488.7,1000.7 488.7,1003.3 488.7,1005.9 488.7,1008.6 488.7,1011.2 488.7,1013.9 488.7,1016.5 488.7,1019.1 488.7,1021.8 488.7,1024.4 488.7,1027 488.7,1029.7 488.7,1032.3 488.7,1035 488.7,1037.6 488.7,1040.2 488.7,1042.9 488.7,1045.5 488.7,1048.1 488.7,1050.8 488.7,1053.4 488.7,1056.1 488.7,1058.7 488.7,1061.3 488.7,1064 488.7,1066.6 488.7,1069.2 488.7,1071.9 488.7,1074.5 488.7,1077.2 488.7,1079.8 488.7,1082.4 488.7,1085.1 488.7,1087.7 488.7,1090.3 488.7,1093 488.7,1095.6 488.7,1098.3 488.7,1100.9 488.7,1103.5 488.7,1106.2 488.7,1108.8 488.7,1111.5 488.7,1114.1 488.7,1116.7 488.7,1119.4 488.7,1122 488.7,1124.6 488.7,1127.3 488.7,1129.9 488.7,1132.6 488.7,1135.2 488.7,1137.8 488.7,1140.5 488.7,1143.1 488.7,1145.7 488.7,1148.4 488.7,1151 488.6,1153.7 488.6,1156.3 488.6,1158.9 488.6,1161.6 488.6,1164.2 488.6,1166.8 488.6,1169.5 488.6,1172.1 488.6,1174.8 488.6,1177.4 488.6,1180 488.6,1182.7 488.6,1185.3 488.5,1187.9 488.5,1190.6 488.5,1193.2 488.5,1195.9 488.5,1198.5 488.5,1201.1 488.2,1203.8 487.8,1206.4 487.1,1209 486.2,1211.7 484.6,1214.3 481.5,1217 477.3,1219.6 472.3,1222.2 466.8,1224.9 461.5,1227.5 456.4,1230.1 451,1232.8 447.4,1235.4 445.4,1238.1 444.7,1240.7 533.3,1240.7 532.6,1238.1 530.6,1235.4 526.9,1232.8 521.6,1230.1 516.5,1227.5 511.2,1224.9 505.6,1222.2 500.6,1219.6 496.4,1217 493.3,1214.3 491.8,1211.7 490.9,1209 490.2,1206.4 489.8,1203.8 489.5,1201.1 489.5,1198.5 489.5,1195.9 489.5,1193.2 489.4,1190.6 489.4,1187.9 489.4,1185.3 489.4,1182.7 489.4,1180 489.4,1177.4 489.4,1174.8 489.4,1172.1 489.4,1169.5 489.4,1166.8 489.4,1164.2 489.3,1161.6 489.3,1158.9 489.3,1156.3 489.3,1153.7 489.3,1151 489.3,1148.4 489.3,1145.7 489.3,1143.1 489.3,1140.5 489.3,1137.8 489.3,1135.2 489.3,1132.6 489.3,1129.9 489.3,1127.3 489.3,1124.6 489.3,1122 489.3,1119.4 489.3,1116.7 489.3,1114.1 489.3,1111.5 489.3,1108.8 489.3,1106.2 489.3,1103.5 489.3,1100.9 489.3,1098.3 489.3,1095.6 489.3,1093 489.3,1090.3 489.3,1087.7 489.3,1085.1 489.3,1082.4 489.3,1079.8 489.3,1077.2 489.3,1074.5 489.3,1071.9 489.3,1069.2 489.3,1066.6 489.3,1064 489.3,1061.3 489.3,1058.7 489.3,1056.1 489.3,1053.4 489.3,1050.8 489.3,1048.1 489.3,1045.5 489.3,1042.9 489.3,1040.2 489.3,1037.6 489.3,1035 489.3,1032.3 489.3,1029.7 489.3,1027 489.3,1024.4 489.3,1021.8 489.3,1019.1 489.3,1016.5 489.3,1013.9 489.3,1011.2 489.3,1008.6 489.3,1005.9 489.3,1003.3 489.3,1000.7 489.3,998 489.3,995.4 489.3,992.8 489.3,990.1 489.3,987.5 489.3,984.8 489.3,982.2 489.3,979.6 489.3,976.9 489.3,974.3 489.3,971.7 489.3,969 489.3,966.4 489.3,963.7 489.3,961.1 489.3,958.5 489.3,955.8 489.3,953.2 489.3,950.5 489.3,947.9 489.2,945.3 489.2,942.6 489.2,940 489.2,937.4 489.2,934.7 489.2,932.1 489.2,929.4 489.2,926.8 489.2,924.2 489.2,921.5 489.2,918.9 489.2,916.3 489.2,913.6 489.2,911 489.2,908.3 489.2,905.7 489.2,903.1 489.2,900.4 489.2,897.8 489.2,895.2 489.2,892.5 489.2,889.9 489.2,887.2 489.2,884.6 489.2,882 489.2,879.3 489.2,876.7 489.2,874.1 489.2,871.4 489.2,868.8 489.2,866.1 489.2,863.5 489.2,860.9 489.2,858.2 489.2,855.6 489.2,853 489.2,850.3 489.2,847.7 489.2,845 489.2,842.4 489.2,839.8 489.2,837.1 489.2,834.5 489.2,831.9 489.2,829.2 489.2,826.6 489.2,823.9 489.2,821.3Z"/>
<path d="M599.5,934.6 599.5,936.5 599.5,938.5 599.5,940.4 599.5,942.3 599.5,944.2 599.5,946.2 599.5,948.1 599.5,950 599.5,951.9 599.5,953.9 599.5,955.8 599.5,957.7 599.5,959.6 599.5,961.6 599.5,963.5 599.5,965.4 599.5,967.3 599.5,969.3 599.5,971.2 599.5,973.1 599.5,975 599.5,977 599.5,978.9 599.5,980.8 599.5,982.7 599.5,984.7 599.5,986.6 599.5,988.5 599.5,990.4 599.5,992.4 599.5,994.3 599.5,996.2 599.5,998.1 599.5,1000.1 599.5,1002 599.5,1003.9 599.5,1005.8 599.5,1007.8 599.5,1009.7 599.5,1011.6 599.5,1013.5 599.5,1015.5 599.5,1017.4 599.5,1019.3 599.5,1021.2 599.5,1023.2 599.5,1025.1 599.5,1027 599.5,1028.9 599.5,1030.9 599.5,1032.8 599.5,1034.7 599.5,1036.6 599.5,1038.6 599.5,1040.5 599.5,1042.4 599.5,1044.3 599.5,1046.3 599.5,1048.2 599.5,1050.1 599.5,1052 599.5,1054 599.5,1055.9 599.5,1057.8 599.5,1059.7 599.5,1061.7 599.5,1063.6 599.5,1065.5 599.5,1067.4 599.5,1069.4 599.5,1071.3 599.5,1073.2 599.5,1075.1 599.5,1077.1 599.5,1079 599.5,1080.9 599.5,1082.8 599.5,1084.8 599.5,1086.7 599.5,1088.6 599.5,1090.5 599.5,1092.5 599.5,1094.4 599.5,1096.3 599.5,1098.2 599.5,1100.2 599.5,1102.1 599.5,1104 599.5,1105.9 599.5,1107.9 599.5,1109.8 599.5,1111.7 599.5,1113.6 599.5,1115.6 599.5,1117.5 599.5,1119.4 599.5,1121.3 599.5,1123.3 599.4,1125.2 599.4,1127.1 599.4,1129 599.4,1131 599.4,1132.9 599.4,1134.8 599.4,1136.7 599.4,1138.7 599.4,1140.6 599.4,1142.5 599.4,1144.4 599.4,1146.4 599.4,1148.3 599.4,1150.2 599.4,1152.1 599.4,1154.1 599.4,1156 599.4,1157.9 599.4,1159.8 599.4,1161.8 599.4,1163.7 599.4,1165.6 599.4,1167.5 599.4,1169.5 599.4,1171.4 599.4,1173.3 599.4,1175.2 599.4,1177.2 599.4,1179.1 599.4,1181 599.4,1182.9 599.4,1184.9 599.4,1186.8 599.4,1188.7 599.4,1190.6 599.4,1192.6 599.4,1194.5 599.4,1196.4 599.3,1198.3 599.3,1200.3 599.3,1202.2 599.3,1204.1 599.3,1206 599.3,1208 599.3,1209.9 599.3,1211.8 599.2,1213.7 599.2,1215.7 599,1217.6 598.7,1219.5 598.1,1221.4 597,1223.4 595.2,1225.3 592.3,1227.2 587.3,1229.1 580.8,1231.1 573.7,1233 566.2,1234.9 560.1,1236.8 556.4,1238.8 555.4,1240.7 644,1240.7 643,1238.8 639.4,1236.8 633.3,1234.9 625.7,1233 618.7,1231.1 612.2,1229.1 607.2,1227.2 604.2,1225.3 602.5,1223.4 601.3,1221.4 600.8,1219.5 600.4,1217.6 600.3,1215.7 600.2,1213.7 600.2,1211.8 600.2,1209.9 600.2,1208 600.2,1206 600.2,1204.1 600.2,1202.2 600.1,1200.3 600.1,1198.3 600.1,1196.4 600.1,1194.5 600.1,1192.6 600.1,1190.6 600.1,1188.7 600.1,1186.8 600.1,1184.9 600.1,1182.9 600.1,1181 600.1,1179.1 600.1,1177.2 600.1,1175.2 600.1,1173.3 600.1,1171.4 600.1,1169.5 600,1167.5 600,1165.6 600,1163.7 600,1161.8 600,1159.8 600,1157.9 600,1156 600,1154.1 600,1152.1 600,1150.2 600,1148.3 600,1146.4 600,1144.4 600,1142.5 600,1140.6 600,1138.7 600,1136.7 600,1134.8 600,1132.9 600,1131 600,1129 600,1127.1 600,1125.2 600,1123.3 600,1121.3 600,1119.4 600,1117.5 600,1115.6 600,1113.6 600,1111.7 600,1109.8 600,1107.9 600,1105.9 600,1104 600,1102.1 600,1100.2 600,1098.2 600,1096.3 600,1094.4 600,1092.5 600,1090.5 600,1088.6 600,1086.7 600,1084.8 600,1082.8 600,1080.9 600,1079 600,1077.1 600,1075.1 600,1073.2 600,1071.3 600,1069.4 600,1067.4 600,1065.5 600,1063.6 600,1061.7 600,1059.7 600,1057.8 600,1055.9 600,1054 600,1052 600,1050.1 600,1048.2 600,1046.3 600,1044.3 600,1042.4 600,1040.5 600,1038.6 600,1036.6 600,1034.7 600,1032.8 600,1030.9 600,1028.9 600,1027 600,1025.1 600,1023.2 600,1021.2 600,1019.3 600,1017.4 600,1015.5 600,1013.5 600,1011.6 600,1009.7 600,1007.8 600,1005.8 600,1003.9 600,1002 600,1000.1 600,998.1 600,996.2 600,994.3 600,992.4 600,990.4 600,988.5 600,986.6 600,984.7 600,982.7 600,980.8 600,978.9 600,977 600,975 600,973.1 600,971.2 600,969.3 600,967.3 600,965.4 600,963.5 600,961.6 600,959.6 600,957.7 600,955.8 600,953.9 600,951.9 600,950 600,948.1 600,946.2 600,944.2 600,942.3 600,940.4 600,938.5 600,936.5 600,934.6Z"/>
<path d="M1264,1043.2 1264,1044.4 1264,1045.7 1264,1046.9 1264,1048.2 1264,1049.4 1264,1050.7 1264,1051.9 1264,1053.1 1264,1054.4 1264,1055.6 1264,1056.9 1264,1058.1 1264,1059.3 1264,1060.6 1264,1061.8 1264,1063.1 1264,1064.3 1264,1065.6 1264,1066.8 1264,1068 1264,1069.3 1264,1070.5 1264,1071.8 1264,1073 1264,1074.3 1264,1075.5 1264,1076.7 1264,1078 1264,1079.2 1264,1080.5 1264,1081.7 1264,1082.9 1264,1084.2 1264,1085.4 1264,1086.7 1264,1087.9 1264,1089.2 1264,1090.4 1264,1091.6 1264,1092.9 1264,1094.1 1264,1095.4 1264,1096.6 1264,1097.9 1264,1099.1 1264,1100.3 1264,1101.6 1264,1102.8 1264,1104.1 1264,1105.3 1264,1106.5 1264,1107.8 1264,1109 1264,1110.3 1264,1111.5 1264,1112.8 1264,1114 1264,1115.2 1264,1116.5 1264,1117.7 1264,1119 1264,1120.2 1264,1121.5 1264,1122.7 1264,1123.9 1264,1125.2 1264,1126.4 1264,1127.7 1264,1128.9 1264,1130.1 1264,1131.4 1264,1132.6 1264,1133.9 1264,1135.1 1263.9,1136.4 1263.9,1137.6 1263.9,1138.8 1263.9,1140.1 1263.9,1141.3 1263.9,1142.6 1263.9,1143.8 1263.9,1145.1 1263.9,1146.3 1263.9,1147.5 1263.9,1148.8 1263.9,1150 1263.9,1151.3 1263.9,1152.5 1263.9,1153.8 1263.9,1155 1263.9,1156.2 1263.9,1157.5 1263.9,1158.7 1263.9,1160 1263.9,1161.2 1263.9,1162.4 1263.9,1163.7 1263.9,1164.9 1263.9,1166.2 1263.9,1167.4 1263.9,1168.7 1263.9,1169.9 1263.9,1171.1 1263.9,1172.4 1263.9,1173.6 1263.9,1174.9 1263.9,1176.1 1263.9,1177.4 1263.9,1178.6 1263.9,1179.8 1263.9,1181.1 1263.9,1182.3 1263.9,1183.6 1263.9,1184.8 1263.9,1186 1263.9,1187.3 1263.9,1188.5 1263.9,1189.8 1263.9,1191 1263.9,1192.3 1263.9,1193.5 1263.9,1194.7 1263.9,1196 1263.9,1197.2 1263.9,1198.5 1263.9,1199.7 1263.9,1201 1263.9,1202.2 1263.9,1203.4 1263.9,1204.7 1263.9,1205.9 1263.9,1207.2 1263.8,1208.4 1263.8,1209.6 1263.8,1210.9 1263.8,1212.1 1263.8,1213.4 1263.8,1214.6 1263.8,1215.9 1263.8,1217.1 1263.8,1218.3 1263.7,1219.6 1263.7,1220.8 1263.7,1222.1 1263.6,1223.3 1263.5,1224.6 1263.2,1225.8 1262.8,1227 1262,1228.3 1260.7,1229.5 1258.3,1230.8 1254.6,1232 1248.8,1233.2 1240.3,1234.5 1233.5,1235.7 1227.9,1237 1223.6,1238.2 1220.8,1239.5 1219.9,1240.7 1308.5,1240.7 1307.7,1239.5 1304.9,1238.2 1300.5,1237 1294.9,1235.7 1288.2,1234.5 1279.6,1233.2 1273.9,1232 1270.2,1230.8 1267.7,1229.5 1266.4,1228.3 1265.6,1227 1265.2,1225.8 1265,1224.6 1264.8,1223.3 1264.7,1222.1 1264.7,1220.8 1264.7,1219.6 1264.7,1218.3 1264.7,1217.1 1264.7,1215.9 1264.6,1214.6 1264.6,1213.4 1264.6,1212.1 1264.6,1210.9 1264.6,1209.6 1264.6,1208.4 1264.6,1207.2 1264.6,1205.9 1264.6,1204.7 1264.6,1203.4 1264.6,1202.2 1264.6,1201 1264.6,1199.7 1264.6,1198.5 1264.5,1197.2 1264.5,1196 1264.5,1194.7 1264.5,1193.5 1264.5,1192.3 1264.5,1191 1264.5,1189.8 1264.5,1188.5 1264.5,1187.3 1264.5,1186 1264.5,1184.8 1264.5,1183.6 1264.5,1182.3 1264.5,1181.1 1264.5,1179.8 1264.5,1178.6 1264.5,1177.4 1264.5,1176.1 1264.5,1174.9 1264.5,1173.6 1264.5,1172.4 1264.5,1171.1 1264.5,1169.9 1264.5,1168.7 1264.5,1167.4 1264.5,1166.2 1264.5,1164.9 1264.5,1163.7 1264.5,1162.4 1264.5,1161.2 1264.5,1160 1264.5,1158.7 1264.5,1157.5 1264.5,1156.2 1264.5,1155 1264.5,1153.8 1264.5,1152.5 1264.5,1151.3 1264.5,1150 1264.5,1148.8 1264.5,1147.5 1264.5,1146.3 1264.5,1145.1 1264.5,1143.8 1264.5,1142.6 1264.5,1141.3 1264.5,1140.1 1264.5,1138.8 1264.5,1137.6 1264.5,1136.4 1264.5,1135.1 1264.5,1133.9 1264.5,1132.6 1264.5,1131.4 1264.5,1130.1 1264.5,1128.9 1264.5,1127.7 1264.5,1126.4 1264.5,1125.2 1264.5,1123.9 1264.5,1122.7 1264.5,1121.5 1264.5,1120.2 1264.5,1119 1264.5,1117.7 1264.5,1116.5 1264.5,1115.2 1264.5,1114 1264.5,1112.8 1264.5,1111.5 1264.5,1110.3 1264.5,1109 1264.5,1107.8 1264.5,1106.5 1264.5,1105.3 1264.5,1104.1 1264.5,1102.8 1264.5,1101.6 1264.5,1100.3 1264.5,1099.1 1264.5,1097.9 1264.5,1096.6 1264.5,1095.4 1264.5,1094.1 1264.5,1092.9 1264.5,1091.6 1264.5,1090.4 1264.5,1089.2 1264.5,1087.9 1264.5,1086.7 1264.5,1085.4 1264.5,1084.2 1264.5,1082.9 1264.5,1081.7 1264.5,1080.5 1264.5,1079.2 1264.5,1078 1264.5,1076.7 1264.5,1075.5 1264.5,1074.3 1264.5,1073 1264.5,1071.8 1264.5,1070.5 1264.5,1069.3 1264.5,1068 1264.5,1066.8 1264.5,1065.6 1264.5,1064.3 1264.5,1063.1 1264.5,1061.8 1264.5,1060.6 1264.5,1059.3 1264.5,1058.1 1264.5,1056.9 1264.5,1055.6 1264.5,1054.4 1264.5,1053.1 1264.5,1051.9 1264.5,1050.7 1264.5,1049.4 1264.5,1048.2 1264.5,1046.9 1264.5,1045.7 1264.5,1044.4 1264.5,1043.2Z"/>
<path d="M112.7,1240.7 H200.7" stroke-linecap="round"/>
<path d="M223.5,1240.7 H311.5" stroke-linecap="round"/>
<path d="M666.5,1240.7 H754.5" stroke-linecap="round"/>
<path d="M777.2,1240.7 H865.2" stroke-linecap="round"/>
<path d="M888,1240.7 H976" stroke-linecap="round"/>
<path d="M998.7,1240.7 H1086.7" stroke-linecap="round"/>
<path d="M1109.5,1240.7 H1197.5" stroke-linecap="round"/>
</g>
<g fill="#b3b3b3" fill-opacity="0.6" stroke="#b3b3b3" stroke-opacity="0.6" stroke-width="1.89">
<circle cx="113.2" cy="1240.7" r="5.21"/>
<circle cx="114.5" cy="1240.7" r="5.21"/>
<circle cx="115.8" cy="1240.7" r="5.21"/>
<circle cx="117" cy="1240.7" r="5.21"/>
<circle cx="118.3" cy="1240.7" r="5.21"/>
<circle cx="119.6" cy="1240.7" r="5.21"/>
<circle cx="120.8" cy="1240.7" r="5.21"/>
<circle cx="122.1" cy="1240.7" r="5.21"/>
<circle cx="123.3" cy="1240.7" r="5.21"/>
<circle cx="124.6" cy="1240.7" r="5.21"/>
<circle cx="125.9" cy="1240.7" r="5.21"/>
<circle cx="127.1" cy="1240.7" r="5.21"/>
<circle cx="128.4" cy="1240.7" r="5.21"/>
<circle cx="129.6" cy="1240.7" r="5.21"/>
<circle cx="130.9" cy="1240.7" r="5.21"/>
<circle cx="132.2" cy="1240.7" r="5.21"/>
<circle cx="133.4" cy="1240.7" r="5.21"/>
<circle cx="134.7" cy="1240.7" r="5.21"/>
<circle cx="135.9" cy="1240.7" r="5.21"/>
<circle cx="137.2" cy="1240.7" r="5.21"/>
<circle cx="138.5" cy="1240.7" r="5.21"/>
<circle cx="139.7" cy="1240.7" r="5.21"/>
<circle cx="141" cy="1240.7" r="5.21"/>
<circle cx="142.2" cy="1240.7" r="5.21"/>
<circle cx="143.5" cy="1240.7" r="5.21"/>
<circle cx="144.8" cy="1240.7" r="5.21"/>
<circle cx="146" cy="1240.7" r="5.21"/>
<circle cx="147.3" cy="1240.7" r="5.21"/>
<circle cx="148.6" cy="1240.7" r="5.21"/>
<circle cx="149.8" cy="1240.7" r="5.21"/>
<circle cx="151.1" cy="1240.7" r="5.21"/>
<circle cx="152.3" cy="1240.7" r="5.21"/>
<circle cx="153.6" cy="1240.7" r="5.21"/>
<circle cx="154.9" cy="1240.7" r="5.21"/>
<circle cx="156.1" cy="1240.7" r="5.21"/>
<circle cx="157.4" cy="1240.7" r="5.21"/>
<circle cx="158.6" cy="1240.7" r="5.21"/>
<circle cx="159.9" cy="1240.7" r="5.21"/>
<circle cx="161.2" cy="1240.7" r="5.21"/>
<circle cx="162.4" cy="1240.7" r="5.21"/>
<circle cx="163.7" cy="1240.7" r="5.21"/>
<circle cx="164.9" cy="1240.7" r="5.21"/>
<circle cx="166.2" cy="1240.7" r="5.21"/>
<circle cx="167.5" cy="1240.7" r="5.21"/>
<circle cx="168.7" cy="1240.7" r="5.21"/>
<circle cx="170" cy="1240.7" r="5.21"/>
<circle cx="171.2" cy="1240.7" r="5.21"/>
<circle cx="172.5" cy="1240.7" r="5.21"/>
<circle cx="173.8" cy="1240.7" r="5.21"/>
<circle cx="175" cy="1240.7" r="5.21"/>
<circle cx="176.3" cy="1240.7" r="5.21"/>
<circle cx="177.6" cy="1240.7" r="5.21"/>
<circle cx="178.8" cy="1240.7" r="5.21"/>
<circle cx="180.1" cy="1240.7" r="5.21"/>
<circle cx="181.3" cy="1240.7" r="5.21"/>
<circle cx="182.6" cy="1240.7" r="5.21"/>
<circle cx="183.9" cy="1240.7" r="5.21"/>
<circle cx="185.1" cy="1240.7" r="5.21"/>
<circle cx="186.4" cy="1240.7" r="5.21"/>
<circle cx="187.6" cy="1240.7" r="5.21"/>
<circle cx="188.9" cy="1240.7" r="5.21"/>
<circle cx="190.2" cy="1240.7" r="5.21"/>
<circle cx="191.4" cy="1240.7" r="5.21"/>
<circle cx="192.7" cy="1240.7" r="5.21"/>
<circle cx="193.9" cy="1240.7" r="5.21"/>
<circle cx="195.2" cy="1240.7" r="5.21"/>
<circle cx="196.5" cy="1240.7" r="5.21"/>
<circle cx="197.7" cy="1240.7" r="5.21"/>
<circle cx="199" cy="1240.7" r="5.21"/>
<circle cx="200.2" cy="1240.7" r="5.21"/>
<circle cx="223.5" cy="1240.7" r="5.21"/>
<circle cx="224.8" cy="1240.7" r="5.21"/>
<circle cx="226" cy="1240.7" r="5.21"/>
<circle cx="227.3" cy="1240.7" r="5.21"/>
<circle cx="228.6" cy="1240.7" r="5.21"/>
<circle cx="229.9" cy="1240.7" r="5.21"/>
<circle cx="231.1" cy="1240.7" r="5.21"/>
<circle cx="232.4" cy="1240.7" r="5.21"/>
<circle cx="233.7" cy="1240.7" r="5.21"/>
<circle cx="235" cy="1240.7" r="5.21"/>
<circle cx="236.2" cy="1240.7" r="5.21"/>
<circle cx="237.5" cy="1240.7" r="5.21"/>
<circle cx="238.8" cy="1240.7" r="5.21"/>
<circle cx="240.1" cy="1240.7" r="5.21"/>
<circle cx="241.4" cy="1240.7" r="5.21"/>
<circle cx="242.6" cy="1240.7" r="5.21"/>
<circle cx="243.9" cy="1240.7" r="5.21"/>
<circle cx="245.2" cy="1240.7" r="5.21"/>
<circle cx="246.5" cy="1240.7" r="5.21"/>
<circle cx="247.7" cy="1240.7" r="5.21"/>
<circle cx="249" cy="1240.7" r="5.21"/>
<circle cx="250.3" cy="1240.7" r="5.21"/>
<circle cx="251.6" cy="1240.7" r="5.21"/>
<circle cx="252.8" cy="1240.7" r="5.21"/>
<circle cx="254.1" cy="1240.7" r="5.21"/>
<circle cx="255.4" cy="1240.7" r="5.21"/>
<circle cx="256.7" cy="1240.7" r="5.21"/>
<circle cx="257.9" cy="1240.7" r="5.21"/>
<circle cx="259.2" cy="1240.7" r="5.21"/>
<circle cx="260.5" cy="1240.7" r="5.21"/>
<circle cx="261.8" cy="1240.7" r="5.21"/>
<circle cx="263" cy="1240.7" r="5.21"/>
<circle cx="264.3" cy="1240.7" r="5.21"/>
<circle cx="265.6" cy="1240.7" r="5.21"/>
<circle cx="266.9" cy="1240.7" r="5.21"/>
<circle cx="268.1" cy="1240.7" r="5.21"/>
<circle cx="269.4" cy="1240.7" r="5.21"/>
<circle cx="270.7" cy="1240.7" r="5.21"/>
<circle cx="272" cy="1240.7" r="5.21"/>
<circle cx="273.2" cy="1240.7" r="5.21"/>
<circle cx="274.5" cy="1240.7" r="5.21"/>
<circle cx="275.8" cy="1240.7" r="5.21"/>
<circle cx="277.1" cy="1240.7" r="5.21"/>
<circle cx="278.3" cy="1240.7" r="5.21"/>
<circle cx="279.6" cy="1240.7" r="5.21"/>
<circle cx="280.9" cy="1240.7" r="5.21"/>
<circle cx="282.2" cy="1240.7" r="5.21"/>
<circle cx="283.4" cy="1240.7" r="5.21"/>
<circle cx="284.7" cy="1240.7" r="5.21"/>
<circle cx="286" cy="1240.7" r="5.21"/>
<circle cx="287.3" cy="1240.7" r="5.21"/>
<circle cx="288.5" cy="1240.7" r="5.21"/>
<circle cx="289.8" cy="1240.7" r="5.21"/>
<circle cx="291.1" cy="1240.7" r="5.21"/>
<circle cx="292.4" cy="1240.7" r="5.21"/>
<circle cx="293.6" cy="1240.7" r="5.21"/>
<circle cx="294.9" cy="1240.7" r="5.21"/>
<circle cx="296.2" cy="1240.7" r="5.21"/>
<circle cx="297.5" cy="1240.7" r="5.21"/>
<circle cx="298.7" cy="1240.7" r="5.21"/>
<circle cx="300" cy="1240.7" r="5.21"/>
<circle cx="301.3" cy="1240.7" r="5.21"/>
<circle cx="302.6" cy="1240.7" r="5.21"/>
<circle cx="303.8" cy="1240.7" r="5.21"/>
<circle cx="305.1" cy="1240.7" r="5.21"/>
<circle cx="306.4" cy="1240.7" r="5.21"/>
<circle cx="307.7" cy="1240.7" r="5.21"/>
<circle cx="308.9" cy="1240.7" r="5.21"/>
<circle cx="310.2" cy="1240.7" r="5.21"/>
<circle cx="311.5" cy="1240.7" r="5.21"/>
<circle cx="229.5" cy="1241.3" r="5.21"/>
<circle cx="232.1" cy="1241.3" r="5.21"/>
<circle cx="234.7" cy="1241.3" r="5.21"/>
<circle cx="237.4" cy="1241.3" r="5.21"/>
<circle cx="240" cy="1241.3" r="5.21"/>
<circle cx="242.6" cy="1241.3" r="5.21"/>
<circle cx="245.2" cy="1241.3" r="5.21"/>
<circle cx="247.8" cy="1241.3" r="5.21"/>
<circle cx="250.5" cy="1241.3" r="5.21"/>
<circle cx="253.1" cy="1241.3" r="5.21"/>
<circle cx="255.7" cy="1241.3" r="5.21"/>
<circle cx="258.3" cy="1241.3" r="5.21"/>
<circle cx="260.9" cy="1241.3" r="5.21"/>
<circle cx="263.6" cy="1241.3" r="5.21"/>
<circle cx="266.2" cy="1241.3" r="5.21"/>
<circle cx="268.8" cy="1241.3" r="5.21"/>
<circle cx="271.4" cy="1241.3" r="5.21"/>
<circle cx="274" cy="1241.3" r="5.21"/>
<circle cx="276.7" cy="1241.3" r="5.21"/>
<circle cx="279.3" cy="1241.3" r="5.21"/>
<circle cx="281.9" cy="1241.3" r="5.21"/>
<circle cx="284.5" cy="1241.3" r="5.21"/>
<circle cx="287.2" cy="1241.3" r="5.21"/>
<circle cx="289.8" cy="1241.3" r="5.21"/>
<circle cx="292.4" cy="1241.3" r="5.21"/>
<circle cx="295" cy="1241.3" r="5.21"/>
<circle cx="297.6" cy="1241.3" r="5.21"/>
<circle cx="300.3" cy="1241.3" r="5.21"/>
<circle cx="302.9" cy="1241.3" r="5.21"/>
<circle cx="305.5" cy="1241.3" r="5.21"/>
<circle cx="229.5" cy="1240.1" r="5.21"/>
<circle cx="232.1" cy="1240.1" r="5.21"/>
<circle cx="234.7" cy="1240.1" r="5.21"/>
<circle cx="237.4" cy="1240.1" r="5.21"/>
<circle cx="240" cy="1240.1" r="5.21"/>
<circle cx="242.6" cy="1240.1" r="5.21"/>
<circle cx="245.2" cy="1240.1" r="5.21"/>
<circle cx="247.8" cy="1240.1" r="5.21"/>
<circle cx="250.5" cy="1240.1" r="5.21"/>
<circle cx="253.1" cy="1240.1" r="5.21"/>
<circle cx="255.7" cy="1240.1" r="5.21"/>
<circle cx="258.3" cy="1240.1" r="5.21"/>
<circle cx="260.9" cy="1240.1" r="5.21"/>
<circle cx="263.6" cy="1240.1" r="5.21"/>
<circle cx="266.2" cy="1240.1" r="5.21"/>
<circle cx="268.8" cy="1240.1" r="5.21"/>
<circle cx="271.4" cy="1240.1" r="5.21"/>
<circle cx="274" cy="1240.1" r="5.21"/>
<circle cx="276.7" cy="1240.1" r="5.21"/>
<circle cx="279.3" cy="1240.1" r="5.21"/>
<circle cx="281.9" cy="1240.1" r="5.21"/>
<circle cx="284.5" cy="1240.1" r="5.21"/>
<circle cx="287.2" cy="1240.1" r="5.21"/>
<circle cx="289.8" cy="1240.1" r="5.21"/>
<circle cx="292.4" cy="1240.1" r="5.21"/>
<circle cx="295" cy="1240.1" r="5.21"/>
<circle cx="297.6" cy="1240.1" r="5.21"/>
<circle cx="300.3" cy="1240.1" r="5.21"/>
<circle cx="302.9" cy="1240.1" r="5.21"/>
<circle cx="305.5" cy="1240.1" r="5.21"/>
<circle cx="334.4" cy="1240.7" r="5.21"/>
<circle cx="335.7" cy="1240.7" r="5.21"/>
<circle cx="337" cy="1240.7" r="5.21"/>
<circle cx="338.3" cy="1240.7" r="5.21"/>
<circle cx="339.5" cy="1240.7" r="5.21"/>
<circle cx="340.8" cy="1240.7" r="5.21"/>
<circle cx="342.1" cy="1240.7" r="5.21"/>
<circle cx="343.3" cy="1240.7" r="5.21"/>
<circle cx="344.6" cy="1240.7" r="5.21"/>
<circle cx="345.9" cy="1240.7" r="5.21"/>
<circle cx="347.1" cy="1240.7" r="5.21"/>
<circle cx="348.4" cy="1240.7" r="5.21"/>
<circle cx="349.7" cy="1240.7" r="5.21"/>
<circle cx="350.9" cy="1240.7" r="5.21"/>
<circle cx="352.2" cy="1240.7" r="5.21"/>
<circle cx="353.5" cy="1240.7" r="5.21"/>
<circle cx="354.8" cy="1240.7" r="5.21"/>
<circle cx="356" cy="1240.7" r="5.21"/>
<circle cx="357.3" cy="1240.7" r="5.21"/>
<circle cx="358.6" cy="1240.7" r="5.21"/>
<circle cx="359.8" cy="1240.7" r="5.21"/>
<circle cx="361.1" cy="1240.7" r="5.21"/>
<circle cx="362.4" cy="1240.7" r="5.21"/>
<circle cx="363.6" cy="1240.7" r="5.21"/>
<circle cx="364.9" cy="1240.7" r="5.21"/>
<circle cx="366.2" cy="1240.7" r="5.21"/>
<circle cx="367.5" cy="1240.7" r="5.21"/>
<circle cx="368.7" cy="1240.7" r="5.21"/>
<circle cx="370" cy="1240.7" r="5.21"/>
<circle cx="371.3" cy="1240.7" r="5.21"/>
<circle cx="372.5" cy="1240.7" r="5.21"/>
<circle cx="373.8" cy="1240.7" r="5.21"/>
<circle cx="375.1" cy="1240.7" r="5.21"/>
<circle cx="376.3" cy="1240.7" r="5.21"/>
<circle cx="377.6" cy="1240.7" r="5.21"/>
<circle cx="378.9" cy="1240.7" r="5.21"/>
<circle cx="380.1" cy="1240.7" r="5.21"/>
<circle cx="381.4" cy="1240.7" r="5.21"/>
<circle cx="382.7" cy="1240.7" r="5.21"/>
<circle cx="384" cy="1240.7" r="5.21"/>
<circle cx="385.2" cy="1240.7" r="5.21"/>
<circle cx="386.5" cy="1240.7" r="5.21"/>
<circle cx="387.8" cy="1240.7" r="5.21"/>
<circle cx="389" cy="1240.7" r="5.21"/>
<circle cx="390.3" cy="1240.7" r="5.21"/>
<circle cx="391.6" cy="1240.7" r="5.21"/>
<circle cx="392.8" cy="1240.7" r="5.21"/>
<circle cx="394.1" cy="1240.7" r="5.21"/>
<circle cx="395.4" cy="1240.7" r="5.21"/>
<circle cx="396.7" cy="1240.7" r="5.21"/>
<circle cx="397.9" cy="1240.7" r="5.21"/>
<circle cx="399.2" cy="1240.7" r="5.21"/>
<circle cx="400.5" cy="1240.7" r="5.21"/>
<circle cx="401.7" cy="1240.7" r="5.21"/>
<circle cx="403" cy="1240.7" r="5.21"/>
<circle cx="404.3" cy="1240.7" r="5.21"/>
<circle cx="405.5" cy="1240.7" r="5.21"/>
<circle cx="406.8" cy="1240.7" r="5.21"/>
<circle cx="408.1" cy="1240.7" r="5.21"/>
<circle cx="409.3" cy="1240.7" r="5.21"/>
<circle cx="410.6" cy="1240.7" r="5.21"/>
<circle cx="411.9" cy="1240.7" r="5.21"/>
<circle cx="413.2" cy="1240.7" r="5.21"/>
<circle cx="414.4" cy="1240.7" r="5.21"/>
<circle cx="415.7" cy="1240.7" r="5.21"/>
<circle cx="417" cy="1240.7" r="5.21"/>
<circle cx="418.2" cy="1240.7" r="5.21"/>
<circle cx="419.5" cy="1240.7" r="5.21"/>
<circle cx="420.8" cy="1240.7" r="5.21"/>
<circle cx="422" cy="1240.7" r="5.21"/>
<circle cx="378.4" cy="785.2" r="5.21"/>
<circle cx="378.4" cy="827.5" r="5.21"/>
<circle cx="378.4" cy="839.3" r="5.21"/>
<circle cx="378.4" cy="864.1" r="5.21"/>
<circle cx="378.6" cy="929.3" r="5.21"/>
<circle cx="377.6" cy="933.4" r="5.21"/>
<circle cx="379.2" cy="937.9" r="5.21"/>
<circle cx="378" cy="941.4" r="5.21"/>
<circle cx="379" cy="945.9" r="5.21"/>
<circle cx="377.4" cy="949" r="5.21"/>
<circle cx="378.4" cy="952.1" r="5.21"/>
<circle cx="379.4" cy="954.8" r="5.21"/>
<circle cx="378.2" cy="966.4" r="5.21"/>
<circle cx="378.6" cy="971.4" r="5.21"/>
<circle cx="378.4" cy="997.3" r="5.21"/>
<circle cx="378.6" cy="997" r="5.21"/>
<circle cx="378.4" cy="1018" r="5.21"/>
<circle cx="378.6" cy="1024.3" r="5.21"/>
<circle cx="378.2" cy="1033.9" r="5.21"/>
<circle cx="378.6" cy="1071.6" r="5.21"/>
<circle cx="378.2" cy="1079.5" r="5.21"/>
<circle cx="378.4" cy="1167.5" r="5.21"/>
<circle cx="378.4" cy="1180.9" r="5.21"/>
<circle cx="378.6" cy="1181.2" r="5.21"/>
<circle cx="372.8" cy="1213" r="5.21"/>
<circle cx="445.2" cy="1240.7" r="5.21"/>
<circle cx="446.5" cy="1240.7" r="5.21"/>
<circle cx="447.7" cy="1240.7" r="5.21"/>
<circle cx="449" cy="1240.7" r="5.21"/>
<circle cx="450.3" cy="1240.7" r="5.21"/>
<circle cx="451.5" cy="1240.7" r="5.21"/>
<circle cx="452.8" cy="1240.7" r="5.21"/>
<circle cx="454.1" cy="1240.7" r="5.21"/>
<circle cx="455.3" cy="1240.7" r="5.21"/>
<circle cx="456.6" cy="1240.7" r="5.21"/>
<circle cx="457.9" cy="1240.7" r="5.21"/>
<circle cx="459.2" cy="1240.7" r="5.21"/>
<circle cx="460.4" cy="1240.7" r="5.21"/>
<circle cx="461.7" cy="1240.7" r="5.21"/>
<circle cx="463" cy="1240.7" r="5.21"/>
<circle cx="464.2" cy="1240.7" r="5.21"/>
<circle cx="465.5" cy="1240.7" r="5.21"/>
<circle cx="466.8" cy="1240.7" r="5.21"/>
<circle cx="468" cy="1240.7" r="5.21"/>
<circle cx="469.3" cy="1240.7" r="5.21"/>
<circle cx="470.6" cy="1240.7" r="5.21"/>
<circle cx="471.9" cy="1240.7" r="5.21"/>
<circle cx="473.1" cy="1240.7" r="5.21"/>
<circle cx="474.4" cy="1240.7" r="5.21"/>
<circle cx="475.7" cy="1240.7" r="5.21"/>
<circle cx="476.9" cy="1240.7" r="5.21"/>
<circle cx="478.2" cy="1240.7" r="5.21"/>
<circle cx="479.5" cy="1240.7" r="5.21"/>
<circle cx="480.7" cy="1240.7" r="5.21"/>
<circle cx="482" cy="1240.7" r="5.21"/>
<circle cx="483.3" cy="1240.7" r="5.21"/>
<circle cx="484.5" cy="1240.7" r="5.21"/>
<circle cx="485.8" cy="1240.7" r="5.21"/>
<circle cx="487.1" cy="1240.7" r="5.21"/>
<circle cx="488.4" cy="1240.7" r="5.21"/>
<circle cx="489.6" cy="1240.7" r="5.21"/>
<circle cx="490.9" cy="1240.7" r="5.21"/>
<circle cx="492.2" cy="1240.7" r="5.21"/>
<circle cx="493.4" cy="1240.7" r="5.21"/>
<circle cx="494.7" cy="1240.7" r="5.21"/>
<circle cx="496" cy="1240.7" r="5.21"/>
<circle cx="497.2" cy="1240.7" r="5.21"/>
<circle cx="498.5" cy="1240.7" r="5.21"/>
<circle cx="499.8" cy="1240.7" r="5.21"/>
<circle cx="501.1" cy="1240.7" r="5.21"/>
<circle cx="502.3" cy="1240.7" r="5.21"/>
<circle cx="503.6" cy="1240.7" r="5.21"/>
<circle cx="504.9" cy="1240.7" r="5.21"/>
<circle cx="506.1" cy="1240.7" r="5.21"/>
<circle cx="507.4" cy="1240.7" r="5.21"/>
<circle cx="508.7" cy="1240.7" r="5.21"/>
<circle cx="509.9" cy="1240.7" r="5.21"/>
<circle cx="511.2" cy="1240.7" r="5.21"/>
<circle cx="512.5" cy="1240.7" r="5.21"/>
<circle cx="513.7" cy="1240.7" r="5.21"/>
<circle cx="515" cy="1240.7" r="5.21"/>
<circle cx="516.3" cy="1240.7" r="5.21"/>
<circle cx="517.6" cy="1240.7" r="5.21"/>
<circle cx="518.8" cy="1240.7" r="5.21"/>
<circle cx="520.1" cy="1240.7" r="5.21"/>
<circle cx="521.4" cy="1240.7" r="5.21"/>
<circle cx="522.6" cy="1240.7" r="5.21"/>
<circle cx="523.9" cy="1240.7" r="5.21"/>
<circle cx="525.2" cy="1240.7" r="5.21"/>
<circle cx="526.4" cy="1240.7" r="5.21"/>
<circle cx="527.7" cy="1240.7" r="5.21"/>
<circle cx="529" cy="1240.7" r="5.21"/>
<circle cx="530.3" cy="1240.7" r="5.21"/>
<circle cx="531.5" cy="1240.7" r="5.21"/>
<circle cx="532.8" cy="1240.7" r="5.21"/>
<circle cx="489" cy="821.3" r="5.21"/>
<circle cx="489" cy="983" r="5.21"/>
<circle cx="555.9" cy="1240.7" r="5.21"/>
<circle cx="557.2" cy="1240.7" r="5.21"/>
<circle cx="558.5" cy="1240.7" r="5.21"/>
<circle cx="559.7" cy="1240.7" r="5.21"/>
<circle cx="561" cy="1240.7" r="5.21"/>
<circle cx="562.3" cy="1240.7" r="5.21"/>
<circle cx="563.6" cy="1240.7" r="5.21"/>
<circle cx="564.8" cy="1240.7" r="5.21"/>
<circle cx="566.1" cy="1240.7" r="5.21"/>
<circle cx="567.4" cy="1240.7" r="5.21"/>
<circle cx="568.6" cy="1240.7" r="5.21"/>
<circle cx="569.9" cy="1240.7" r="5.21"/>
<circle cx="571.2" cy="1240.7" r="5.21"/>
<circle cx="572.4" cy="1240.7" r="5.21"/>
<circle cx="573.7" cy="1240.7" r="5.21"/>
<circle cx="575" cy="1240.7" r="5.21"/>
<circle cx="576.3" cy="1240.7" r="5.21"/>
<circle cx="577.5" cy="1240.7" r="5.21"/>
<circle cx="578.8" cy="1240.7" r="5.21"/>
<circle cx="580.1" cy="1240.7" r="5.21"/>
<circle cx="581.3" cy="1240.7" r="5.21"/>
<circle cx="582.6" cy="1240.7" r="5.21"/>
<circle cx="583.9" cy="1240.7" r="5.21"/>
<circle cx="585.1" cy="1240.7" r="5.21"/>
<circle cx="586.4" cy="1240.7" r="5.21"/>
<circle cx="587.7" cy="1240.7" r="5.21"/>
<circle cx="588.9" cy="1240.7" r="5.21"/>
<circle cx="590.2" cy="1240.7" r="5.21"/>
<circle cx="591.5" cy="1240.7" r="5.21"/>
<circle cx="592.8" cy="1240.7" r="5.21"/>
<circle cx="594" cy="1240.7" r="5.21"/>
<circle cx="595.3" cy="1240.7" r="5.21"/>
<circle cx="596.6" cy="1240.7" r="5.21"/>
<circle cx="597.8" cy="1240.7" r="5.21"/>
<circle cx="599.1" cy="1240.7" r="5.21"/>
<circle cx="600.4" cy="1240.7" r="5.21"/>
<circle cx="601.6" cy="1240.7" r="5.21"/>
<circle cx="602.9" cy="1240.7" r="5.21"/>
<circle cx="604.2" cy="1240.7" r="5.21"/>
<circle cx="605.5" cy="1240.7" r="5.21"/>
<circle cx="606.7" cy="1240.7" r="5.21"/>
<circle cx="608" cy="1240.7" r="5.21"/>
<circle cx="609.3" cy="1240.7" r="5.21"/>
<circle cx="610.5" cy="1240.7" r="5.21"/>
<circle cx="611.8" cy="1240.7" r="5.21"/>
<circle cx="613.1" cy="1240.7" r="5.21"/>
<circle cx="614.3" cy="1240.7" r="5.21"/>
<circle cx="615.6" cy="1240.7" r="5.21"/>
<circle cx="616.9" cy="1240.7" r="5.21"/>
<circle cx="618.1" cy="1240.7" r="5.21"/>
<circle cx="619.4" cy="1240.7" r="5.21"/>
<circle cx="620.7" cy="1240.7" r="5.21"/>
<circle cx="622" cy="1240.7" r="5.21"/>
<circle cx="623.2" cy="1240.7" r="5.21"/>
<circle cx="624.5" cy="1240.7" r="5.21"/>
<circle cx="625.8" cy="1240.7" r="5.21"/>
<circle cx="627" cy="1240.7" r="5.21"/>
<circle cx="628.3" cy="1240.7" r="5.21"/>
<circle cx="629.6" cy="1240.7" r="5.21"/>
<circle cx="630.8" cy="1240.7" r="5.21"/>
<circle cx="632.1" cy="1240.7" r="5.21"/>
<circle cx="633.4" cy="1240.7" r="5.21"/>
<circle cx="634.7" cy="1240.7" r="5.21"/>
<circle cx="635.9" cy="1240.7" r="5.21"/>
<circle cx="637.2" cy="1240.7" r="5.21"/>
<circle cx="638.5" cy="1240.7" r="5.21"/>
<circle cx="639.7" cy="1240.7" r="5.21"/>
<circle cx="641" cy="1240.7" r="5.21"/>
<circle cx="642.3" cy="1240.7" r="5.21"/>
<circle cx="643.5" cy="1240.7" r="5.21"/>
<circle cx="599.7" cy="934.6" r="5.21"/>
<circle cx="668.6" cy="1240.7" r="5.21"/>
<circle cx="673.6" cy="1240.7" r="5.21"/>
<circle cx="678.6" cy="1240.7" r="5.21"/>
<circle cx="683.6" cy="1240.7" r="5.21"/>
<circle cx="688.6" cy="1240.7" r="5.21"/>
<circle cx="693.6" cy="1240.7" r="5.21"/>
<circle cx="698.6" cy="1240.7" r="5.21"/>
<circle cx="703.6" cy="1240.7" r="5.21"/>
<circle cx="708.6" cy="1240.7" r="5.21"/>
<circle cx="713.6" cy="1240.7" r="5.21"/>
<circle cx="718.6" cy="1240.7" r="5.21"/>
<circle cx="723.6" cy="1240.7" r="5.21"/>
<circle cx="728.6" cy="1240.7" r="5.21"/>
<circle cx="733.6" cy="1240.7" r="5.21"/>
<circle cx="738.6" cy="1240.7" r="5.21"/>
<circle cx="743.6" cy="1240.7" r="5.21"/>
<circle cx="748.6" cy="1240.7" r="5.21"/>
<circle cx="799" cy="1240.7" r="5.21"/>
<circle cx="821.2" cy="1240.7" r="5.21"/>
<circle cx="843.4" cy="1240.7" r="5.21"/>
<circle cx="888.8" cy="1240.7" r="5.21"/>
<circle cx="890" cy="1240.7" r="5.21"/>
<circle cx="891.3" cy="1240.7" r="5.21"/>
<circle cx="892.5" cy="1240.7" r="5.21"/>
<circle cx="893.8" cy="1240.7" r="5.21"/>
<circle cx="895" cy="1240.7" r="5.21"/>
<circle cx="896.3" cy="1240.7" r="5.21"/>
<circle cx="897.5" cy="1240.7" r="5.21"/>
<circle cx="898.8" cy="1240.7" r="5.21"/>
<circle cx="900" cy="1240.7" r="5.21"/>
<circle cx="901.3" cy="1240.7" r="5.21"/>
<circle cx="902.6" cy="1240.7" r="5.21"/>
<circle cx="903.8" cy="1240.7" r="5.21"/>
<circle cx="905.1" cy="1240.7" r="5.21"/>
<circle cx="906.3" cy="1240.7" r="5.21"/>
<circle cx="907.6" cy="1240.7" r="5.21"/>
<circle cx="908.8" cy="1240.7" r="5.21"/>
<circle cx="910.1" cy="1240.7" r="5.21"/>
<circle cx="911.3" cy="1240.7" r="5.21"/>
<circle cx="912.6" cy="1240.7" r="5.21"/>
<circle cx="913.8" cy="1240.7" r="5.21"/>
<circle cx="915.1" cy="1240.7" r="5.21"/>
<circle cx="916.3" cy="1240.7" r="5.21"/>
<circle cx="917.6" cy="1240.7" r="5.21"/>
<circle cx="918.8" cy="1240.7" r="5.21"/>
<circle cx="920.1" cy="1240.7" r="5.21"/>
<circle cx="921.3" cy="1240.7" r="5.21"/>
<circle cx="922.6" cy="1240.7" r="5.21"/>
<circle cx="923.8" cy="1240.7" r="5.21"/>
<circle cx="925.1" cy="1240.7" r="5.21"/>
<circle cx="926.3" cy="1240.7" r="5.21"/>
<circle cx="927.6" cy="1240.7" r="5.21"/>
<circle cx="928.8" cy="1240.7" r="5.21"/>
<circle cx="930.1" cy="1240.7" r="5.21"/>
<circle cx="931.4" cy="1240.7" r="5.21"/>
<circle cx="932.6" cy="1240.7" r="5.21"/>
<circle cx="933.9" cy="1240.7" r="5.21"/>
<circle cx="935.1" cy="1240.7" r="5.21"/>
<circle cx="936.4" cy="1240.7" r="5.21"/>
<circle cx="937.6" cy="1240.7" r="5.21"/>
<circle cx="938.9" cy="1240.7" r="5.21"/>
<circle cx="940.1" cy="1240.7" r="5.21"/>
<circle cx="941.4" cy="1240.7" r="5.21"/>
<circle cx="942.6" cy="1240.7" r="5.21"/>
<circle cx="943.9" cy="1240.7" r="5.21"/>
<circle cx="945.1" cy="1240.7" r="5.21"/>
<circle cx="946.4" cy="1240.7" r="5.21"/>
<circle cx="947.6" cy="1240.7" r="5.21"/>
<circle cx="948.9" cy="1240.7" r="5.21"/>
<circle cx="950.1" cy="1240.7" r="5.21"/>
<circle cx="951.4" cy="1240.7" r="5.21"/>
<circle cx="952.6" cy="1240.7" r="5.21"/>
<circle cx="953.9" cy="1240.7" r="5.21"/>
<circle cx="955.1" cy="1240.7" r="5.21"/>
<circle cx="956.4" cy="1240.7" r="5.21"/>
<circle cx="957.6" cy="1240.7" r="5.21"/>
<circle cx="958.9" cy="1240.7" r="5.21"/>
<circle cx="960.2" cy="1240.7" r="5.21"/>
<circle cx="961.4" cy="1240.7" r="5.21"/>
<circle cx="962.7" cy="1240.7" r="5.21"/>
<circle cx="963.9" cy="1240.7" r="5.21"/>
<circle cx="965.2" cy="1240.7" r="5.21"/>
<circle cx="966.4" cy="1240.7" r="5.21"/>
<circle cx="967.7" cy="1240.7" r="5.21"/>
<circle cx="968.9" cy="1240.7" r="5.21"/>
<circle cx="970.2" cy="1240.7" r="5.21"/>
<circle cx="971.4" cy="1240.7" r="5.21"/>
<circle cx="972.7" cy="1240.7" r="5.21"/>
<circle cx="973.9" cy="1240.7" r="5.21"/>
<circle cx="975.2" cy="1240.7" r="5.21"/>
<circle cx="999.5" cy="1240.7" r="5.21"/>
<circle cx="1000.8" cy="1240.7" r="5.21"/>
<circle cx="1002" cy="1240.7" r="5.21"/>
<circle cx="1003.3" cy="1240.7" r="5.21"/>
<circle cx="1004.5" cy="1240.7" r="5.21"/>
<circle cx="1005.8" cy="1240.7" r="5.21"/>
<circle cx="1007" cy="1240.7" r="5.21"/>
<circle cx="1008.3" cy="1240.7" r="5.21"/>
<circle cx="1009.5" cy="1240.7" r="5.21"/>
<circle cx="1010.8" cy="1240.7" r="5.21"/>
<circle cx="1012" cy="1240.7" r="5.21"/>
<circle cx="1013.3" cy="1240.7" r="5.21"/>
<circle cx="1014.6" cy="1240.7" r="5.21"/>
<circle cx="1015.8" cy="1240.7" r="5.21"/>
<circle cx="1017.1" cy="1240.7" r="5.21"/>
<circle cx="1018.3" cy="1240.7" r="5.21"/>
<circle cx="1019.6" cy="1240.7" r="5.21"/>
<circle cx="1020.8" cy="1240.7" r="5.21"/>
<circle cx="1022.1" cy="1240.7" r="5.21"/>
<circle cx="1023.3" cy="1240.7" r="5.21"/>
<circle cx="1024.6" cy="1240.7" r="5.21"/>
<circle cx="1025.8" cy="1240.7" r="5.21"/>
<circle cx="1027.1" cy="1240.7" r="5.21"/>
<circle cx="1028.3" cy="1240.7" r="5.21"/>
<circle cx="1029.6" cy="1240.7" r="5.21"/>
<circle cx="1030.8" cy="1240.7" r="5.21"/>
<circle cx="1032.1" cy="1240.7" r="5.21"/>
<circle cx="1033.3" cy="1240.7" r="5.21"/>
<circle cx="1034.6" cy="1240.7" r="5.21"/>
<circle cx="1035.8" cy="1240.7" r="5.21"/>
<circle cx="1037.1" cy="1240.7" r="5.21"/>
<circle cx="1038.3" cy="1240.7" r="5.21"/>
<circle cx="1039.6" cy="1240.7" r="5.21"/>
<circle cx="1040.8" cy="1240.7" r="5.21"/>
<circle cx="1042.1" cy="1240.7" r="5.21"/>
<circle cx="1043.4" cy="1240.7" r="5.21"/>
<circle cx="1044.6" cy="1240.7" r="5.21"/>
<circle cx="1045.9" cy="1240.7" r="5.21"/>
<circle cx="1047.1" cy="1240.7" r="5.21"/>
<circle cx="1048.4" cy="1240.7" r="5.21"/>
<circle cx="1049.6" cy="1240.7" r="5.21"/>
<circle cx="1050.9" cy="1240.7" r="5.21"/>
<circle cx="1052.1" cy="1240.7" r="5.21"/>
<circle cx="1053.4" cy="1240.7" r="5.21"/>
<circle cx="1054.6" cy="1240.7" r="5.21"/>
<circle cx="1055.9" cy="1240.7" r="5.21"/>
<circle cx="1057.1" cy="1240.7" r="5.21"/>
<circle cx="1058.4" cy="1240.7" r="5.21"/>
<circle cx="1059.6" cy="1240.7" r="5.21"/>
<circle cx="1060.9" cy="1240.7" r="5.21"/>
<circle cx="1062.1" cy="1240.7" r="5.21"/>
<circle cx="1063.4" cy="1240.7" r="5.21"/>
<circle cx="1064.6" cy="1240.7" r="5.21"/>
<circle cx="1065.9" cy="1240.7" r="5.21"/>
<circle cx="1067.1" cy="1240.7" r="5.21"/>
<circle cx="1068.4" cy="1240.7" r="5.21"/>
<circle cx="1069.6" cy="1240.7" r="5.21"/>
<circle cx="1070.9" cy="1240.7" r="5.21"/>
<circle cx="1072.2" cy="1240.7" r="5.21"/>
<circle cx="1073.4" cy="1240.7" r="5.21"/>
<circle cx="1074.7" cy="1240.7" r="5.21"/>
<circle cx="1075.9" cy="1240.7" r="5.21"/>
<circle cx="1077.2" cy="1240.7" r="5.21"/>
<circle cx="1078.4" cy="1240.7" r="5.21"/>
<circle cx="1079.7" cy="1240.7" r="5.21"/>
<circle cx="1080.9" cy="1240.7" r="5.21"/>
<circle cx="1082.2" cy="1240.7" r="5.21"/>
<circle cx="1083.4" cy="1240.7" r="5.21"/>
<circle cx="1084.7" cy="1240.7" r="5.21"/>
<circle cx="1085.9" cy="1240.7" r="5.21"/>
<circle cx="1120.1" cy="1240.7" r="5.21"/>
<circle cx="1131.3" cy="1240.7" r="5.21"/>
<circle cx="1153.3" cy="1240.7" r="5.21"/>
<circle cx="1175.5" cy="1240.7" r="5.21"/>
<circle cx="1220.4" cy="1240.7" r="5.21"/>
<circle cx="1221.7" cy="1240.7" r="5.21"/>
<circle cx="1223" cy="1240.7" r="5.21"/>
<circle cx="1224.2" cy="1240.7" r="5.21"/>
<circle cx="1225.5" cy="1240.7" r="5.21"/>
<circle cx="1226.8" cy="1240.7" r="5.21"/>
<circle cx="1228" cy="1240.7" r="5.21"/>
<circle cx="1229.3" cy="1240.7" r="5.21"/>
<circle cx="1230.6" cy="1240.7" r="5.21"/>
<circle cx="1231.8" cy="1240.7" r="5.21"/>
<circle cx="1233.1" cy="1240.7" r="5.21"/>
<circle cx="1234.4" cy="1240.7" r="5.21"/>
<circle cx="1235.7" cy="1240.7" r="5.21"/>
<circle cx="1236.9" cy="1240.7" r="5.21"/>
<circle cx="1238.2" cy="1240.7" r="5.21"/>
<circle cx="1239.5" cy="1240.7" r="5.21"/>
<circle cx="1240.7" cy="1240.7" r="5.21"/>
<circle cx="1242" cy="1240.7" r="5.21"/>
<circle cx="1243.3" cy="1240.7" r="5.21"/>
<circle cx="1244.5" cy="1240.7" r="5.21"/>
<circle cx="1245.8" cy="1240.7" r="5.21"/>
<circle cx="1247.1" cy="1240.7" r="5.21"/>
<circle cx="1248.4" cy="1240.7" r="5.21"/>
<circle cx="1249.6" cy="1240.7" r="5.21"/>
<circle cx="1250.9" cy="1240.7" r="5.21"/>
<circle cx="1252.2" cy="1240.7" r="5.21"/>
<circle cx="1253.4" cy="1240.7" r="5.21"/>
<circle cx="1254.7" cy="1240.7" r="5.21"/>
<circle cx="1256" cy="1240.7" r="5.21"/>
<circle cx="1257.2" cy="1240.7" r="5.21"/>
<circle cx="1258.5" cy="1240.7" r="5.21"/>
<circle cx="1259.8" cy="1240.7" r="5.21"/>
<circle cx="1261" cy="1240.7" r="5.21"/>
<circle cx="1262.3" cy="1240.7" r="5.21"/>
<circle cx="1263.6" cy="1240.7" r="5.21"/>
<circle cx="1264.9" cy="1240.7" r="5.21"/>
<circle cx="1266.1" cy="1240.7" r="5.21"/>
<circle cx="1267.4" cy="1240.7" r="5.21"/>
<circle cx="1268.7" cy="1240.7" r="5.21"/>
<circle cx="1269.9" cy="1240.7" r="5.21"/>
<circle cx="1271.2" cy="1240.7" r="5.21"/>
<circle cx="1272.5" cy="1240.7" r="5.21"/>
<circle cx="1273.7" cy="1240.7" r="5.21"/>
<circle cx="1275" cy="1240.7" r="5.21"/>
<circle cx="1276.3" cy="1240.7" r="5.21"/>
<circle cx="1277.6" cy="1240.7" r="5.21"/>
<circle cx="1278.8" cy="1240.7" r="5.21"/>
<circle cx="1280.1" cy="1240.7" r="5.21"/>
<circle cx="1281.4" cy="1240.7" r="5.21"/>
<circle cx="1282.6" cy="1240.7" r="5.21"/>
<circle cx="1283.9" cy="1240.7" r="5.21"/>
<circle cx="1285.2" cy="1240.7" r="5.21"/>
<circle cx="1286.4" cy="1240.7" r="5.21"/>
<circle cx="1287.7" cy="1240.7" r="5.21"/>
<circle cx="1289" cy="1240.7" r="5.21"/>
<circle cx="1290.2" cy="1240.7" r="5.21"/>
<circle cx="1291.5" cy="1240.7" r="5.21"/>
<circle cx="1292.8" cy="1240.7" r="5.21"/>
<circle cx="1294.1" cy="1240.7" r="5.21"/>
<circle cx="1295.3" cy="1240.7" r="5.21"/>
<circle cx="1296.6" cy="1240.7" r="5.21"/>
<circle cx="1297.9" cy="1240.7" r="5.21"/>
<circle cx="1299.1" cy="1240.7" r="5.21"/>
<circle cx="1300.4" cy="1240.7" r="5.21"/>
<circle cx="1301.7" cy="1240.7" r="5.21"/>
<circle cx="1302.9" cy="1240.7" r="5.21"/>
<circle cx="1304.2" cy="1240.7" r="5.21"/>
<circle cx="1305.5" cy="1240.7" r="5.21"/>
<circle cx="1306.8" cy="1240.7" r="5.21"/>
<circle cx="1308" cy="1240.7" r="5.21"/>
<circle cx="1264.2" cy="1043.2" r="5.21"/>
</g>
</svg></body></html>
